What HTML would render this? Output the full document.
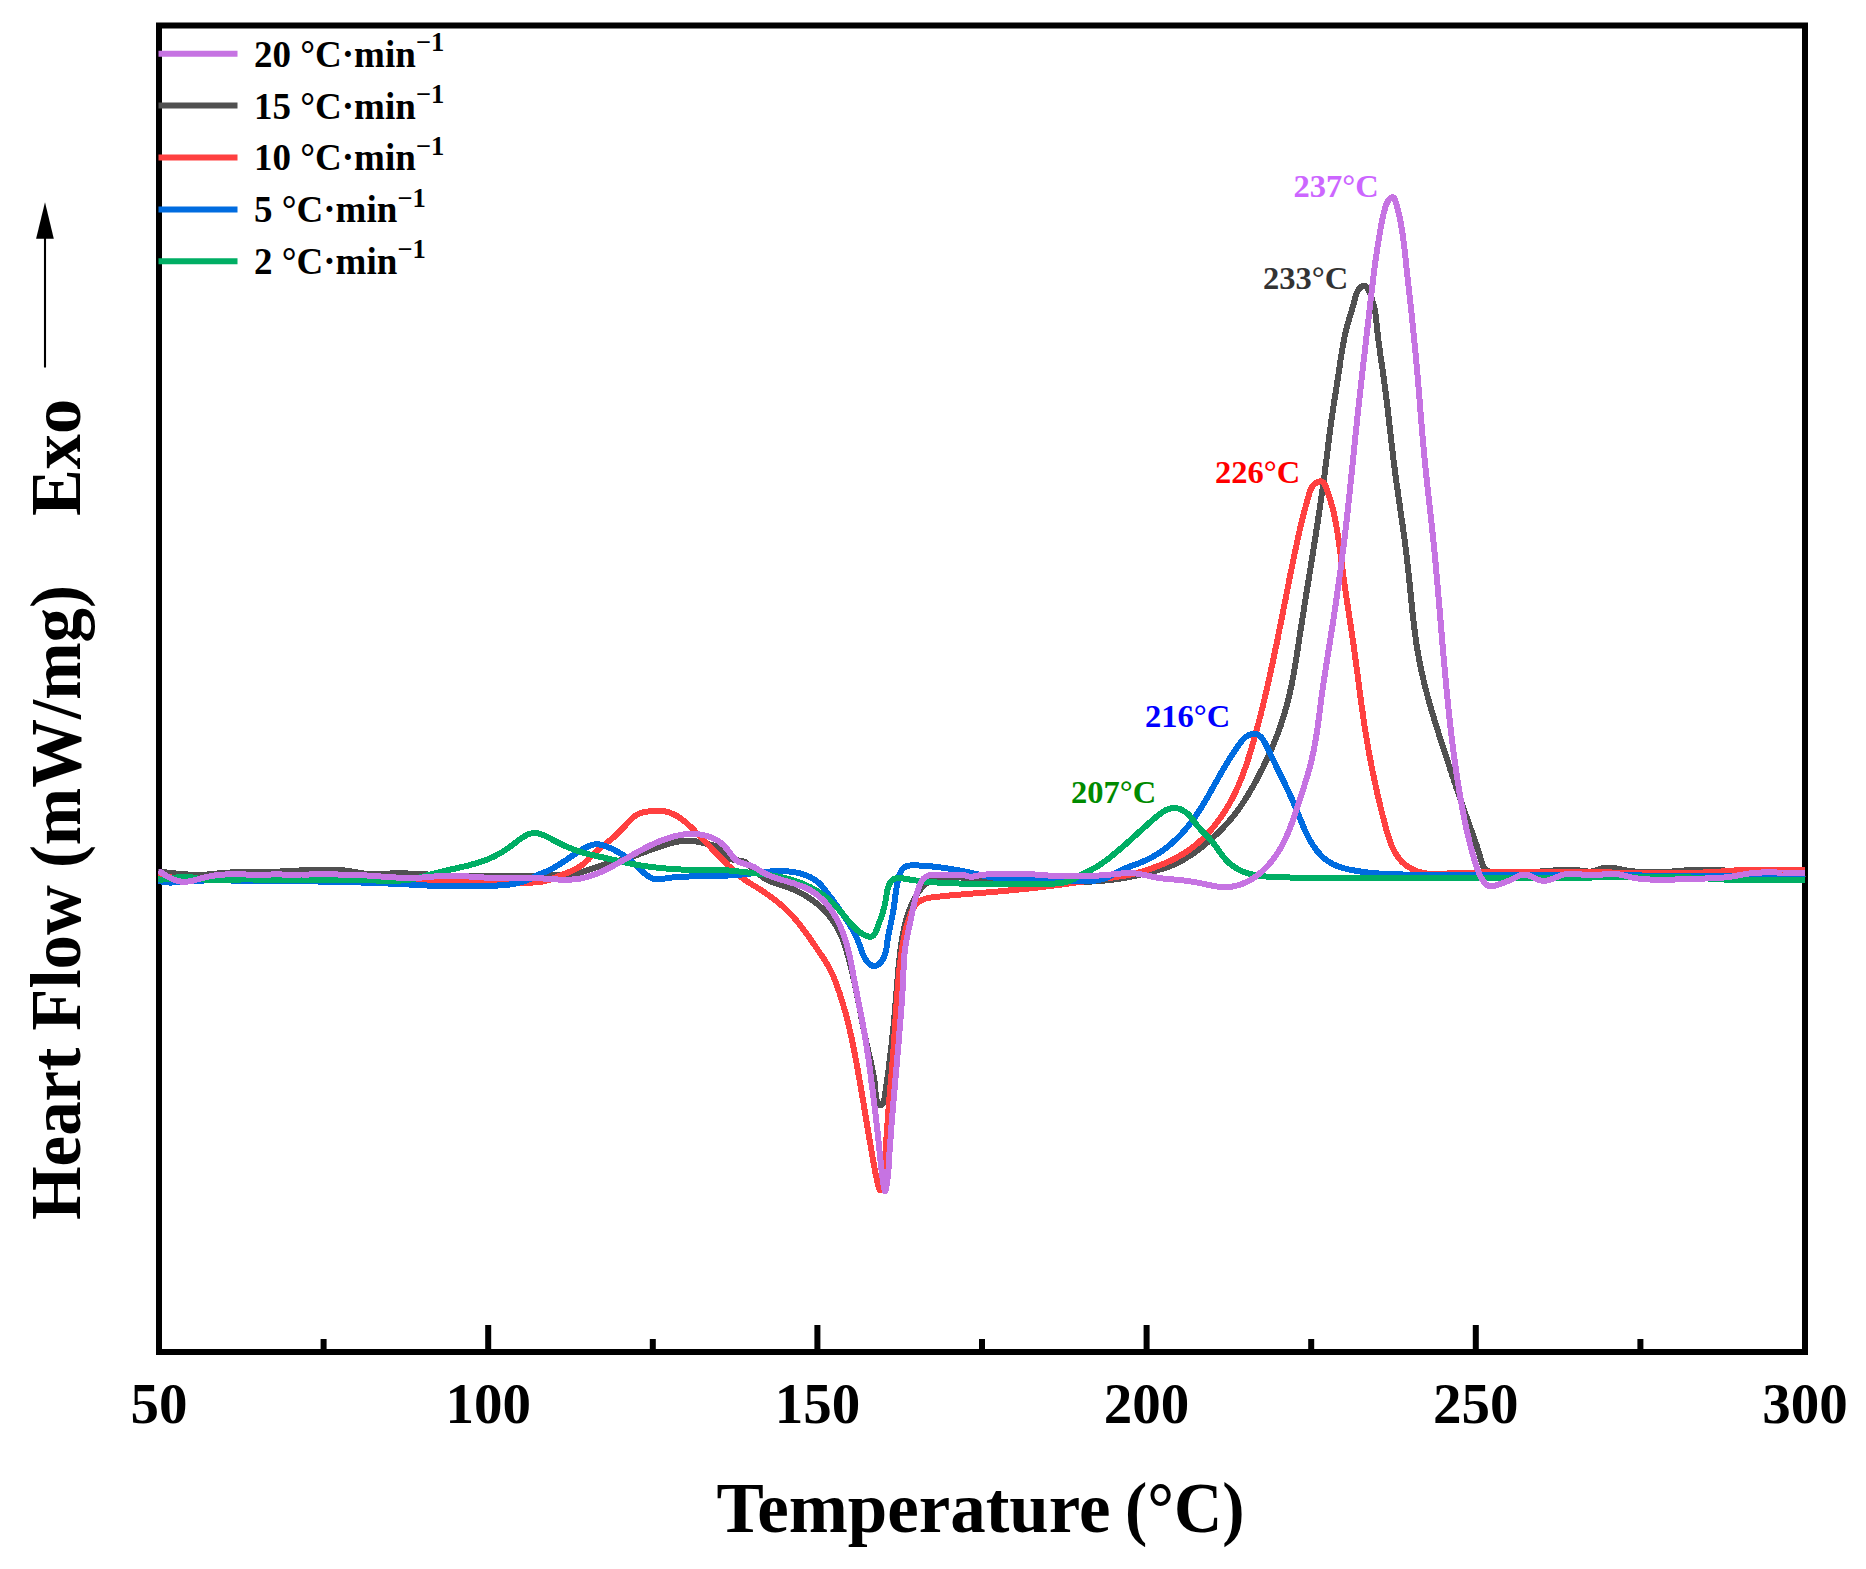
<!DOCTYPE html>
<html><head><meta charset="utf-8"><title>DSC curves</title><style>
html,body{margin:0;padding:0;background:#fff;width:1866px;height:1569px;overflow:hidden}
svg{display:block}
text{font-family:"Liberation Serif","Times New Roman",serif;font-weight:bold}
</style></head><body>
<svg width="1866" height="1569" viewBox="0 0 1866 1569">
<rect x="0" y="0" width="1866" height="1569" fill="#fff"/>

<rect x="159" y="25.5" width="1646" height="1326.5" fill="none" stroke="#000" stroke-width="6"/>
<path stroke="#000" stroke-width="6" d="M488.2,1325V1352M817.4,1325V1352M1146.6,1325V1352M1475.8,1325V1352M323.6,1339V1352M652.8,1339V1352M982.0,1339V1352M1311.2,1339V1352M1640.4,1339V1352"/>
<defs><clipPath id="pc"><rect x="158" y="20" width="1648" height="1330"/></clipPath></defs>
<g fill="none" stroke-width="6" stroke-linejoin="round" stroke-linecap="butt" shape-rendering="crispEdges" clip-path="url(#pc)">
<path stroke="#505050" d="M158.0,871.5L159.4,871.6 160.9,871.8 162.4,872.0 163.9,872.2 165.3,872.3 166.8,872.5 168.3,872.7 169.8,872.9 171.3,873.0 172.8,873.2 174.3,873.4 175.8,873.5 177.3,873.7 178.7,873.8 180.2,874.0 181.7,874.1 183.2,874.2 184.7,874.3 186.2,874.4 187.7,874.5 189.2,874.6 190.7,874.7 192.2,874.7 193.7,874.8 195.1,874.8 196.6,874.8 198.1,874.8 199.6,874.8 201.1,874.8 202.5,874.7 204.0,874.7 205.5,874.6 206.9,874.5 208.4,874.4 209.9,874.2 211.3,874.1 212.8,874.0 214.2,873.8 215.7,873.7 217.2,873.5 218.6,873.4 220.1,873.2 221.6,873.1 223.0,873.0 224.5,872.8 226.0,872.7 227.5,872.6 229.0,872.5 230.5,872.5 232.0,872.4 233.5,872.4 235.0,872.3 236.5,872.3 238.0,872.3 239.5,872.3 241.0,872.3 242.6,872.2 244.1,872.2 245.6,872.2 247.1,872.2 248.6,872.2 250.1,872.2 251.6,872.2 253.1,872.2 254.6,872.2 256.1,872.2 257.6,872.2 259.1,872.1 260.6,872.1 262.1,872.1 263.6,872.0 265.1,872.0 266.6,872.0 268.1,871.9 269.5,871.9 271.0,871.8 272.5,871.8 274.0,871.7 275.5,871.7 276.9,871.6 278.4,871.6 279.9,871.5 281.4,871.4 282.9,871.4 284.3,871.3 285.8,871.2 287.3,871.2 288.8,871.1 290.3,871.0 291.8,870.9 293.2,870.9 294.7,870.8 296.2,870.7 297.7,870.6 299.2,870.5 300.7,870.4 302.2,870.4 303.7,870.3 305.2,870.2 306.7,870.1 308.2,870.0 309.7,870.0 311.2,869.9 312.7,869.8 314.2,869.8 315.7,869.7 317.2,869.6 318.7,869.6 320.2,869.6 321.7,869.5 323.2,869.5 324.7,869.5 326.2,869.5 327.7,869.5 329.2,869.5 330.7,869.5 332.2,869.6 333.7,869.6 335.2,869.7 336.7,869.8 338.2,869.9 339.6,870.0 341.1,870.1 342.6,870.2 344.1,870.4 345.6,870.6 347.0,870.8 348.5,871.0 350.0,871.2 351.4,871.5 352.9,871.7 354.4,872.0 355.8,872.2 357.3,872.5 358.8,872.7 360.2,872.9 361.7,873.2 363.1,873.4 364.6,873.6 366.1,873.7 367.6,873.9 369.0,874.0 370.5,874.1 372.0,874.1 373.5,874.1 375.0,874.1 376.5,874.1 378.0,874.1 379.5,874.0 381.0,873.9 382.5,873.9 384.0,873.8 385.5,873.7 387.1,873.6 388.6,873.5 390.1,873.5 391.6,873.4 393.1,873.4 394.6,873.3 396.1,873.3 397.6,873.3 399.1,873.3 400.6,873.3 402.1,873.3 403.6,873.3 405.1,873.4 406.6,873.4 408.1,873.5 409.6,873.5 411.0,873.6 412.5,873.6 414.0,873.7 415.5,873.8 417.0,873.9 418.5,873.9 420.0,874.0 421.5,874.1 423.0,874.2 424.5,874.3 426.0,874.4 427.4,874.5 428.9,874.6 430.4,874.7 431.9,874.7 433.4,874.8 434.9,874.9 436.4,875.0 437.9,875.1 439.4,875.2 440.9,875.2 442.4,875.3 443.9,875.4 445.4,875.4 446.8,875.5 448.3,875.6 449.8,875.6 451.3,875.7 452.8,875.7 454.3,875.8 455.8,875.8 457.3,875.9 458.8,875.9 460.3,875.9 461.8,876.0 463.3,876.0 464.8,876.0 466.3,876.0 467.8,876.1 469.3,876.1 470.8,876.1 472.3,876.1 473.8,876.1 475.3,876.2 476.8,876.2 478.3,876.2 479.8,876.2 481.3,876.2 482.8,876.2 484.3,876.2 485.8,876.2 487.3,876.2 488.8,876.2 490.3,876.2 491.8,876.2 493.3,876.2 494.8,876.2 496.3,876.2 497.8,876.2 499.3,876.1 500.8,876.1 502.3,876.1 503.8,876.1 505.3,876.1 506.8,876.1 508.3,876.1 509.8,876.0 511.3,876.0 512.8,876.0 514.3,876.0 515.8,876.0 517.3,875.9 518.8,875.9 520.3,875.9 521.8,875.9 523.3,875.9 524.8,875.8 526.3,875.8 527.8,875.8 529.3,875.8 530.8,875.8 532.3,875.7 533.8,875.7 535.3,875.7 536.8,875.7 538.3,875.7 539.8,875.6 541.3,875.6 542.8,875.6 544.3,875.6 545.8,875.5 547.2,875.5 548.7,875.5 550.2,875.4 551.7,875.4 553.2,875.3 554.7,875.3 556.2,875.2 557.7,875.2 559.2,875.1 560.7,875.0 562.2,874.9 563.6,874.8 565.1,874.7 566.6,874.6 568.1,874.4 569.6,874.3 571.1,874.1 572.5,873.9 574.0,873.7 575.5,873.4 576.9,873.1 578.4,872.8 579.8,872.5 581.3,872.1 582.7,871.7 584.2,871.3 585.6,870.9 587.0,870.4 588.4,869.9 589.9,869.5 591.3,869.0 592.7,868.5 594.1,868.0 595.6,867.5 597.0,867.0 598.4,866.5 599.8,866.0 601.3,865.6 602.7,865.2 604.2,864.7 605.6,864.3 607.1,863.9 608.5,863.5 609.9,863.1 611.4,862.7 612.8,862.4 614.3,862.0 615.7,861.6 617.2,861.2 618.6,860.8 620.1,860.4 621.5,860.0 622.9,859.5 624.4,859.1 625.8,858.7 627.2,858.2 628.7,857.7 630.1,857.3 631.5,856.8 632.9,856.3 634.3,855.8 635.7,855.3 637.2,854.8 638.6,854.3 640.0,853.8 641.4,853.3 642.8,852.8 644.2,852.3 645.6,851.8 647.0,851.2 648.4,850.7 649.8,850.2 651.3,849.7 652.7,849.2 654.1,848.7 655.5,848.2 656.9,847.7 658.3,847.2 659.8,846.7 661.2,846.2 662.6,845.8 664.0,845.3 665.5,844.8 666.9,844.4 668.3,844.0 669.8,843.5 671.2,843.1 672.7,842.7 674.1,842.4 675.6,842.1 677.0,841.7 678.5,841.5 680.0,841.2 681.4,841.0 682.9,840.9 684.4,840.8 685.8,840.7 687.3,840.7 688.8,840.7 690.3,840.8 691.8,840.9 693.3,841.1 694.8,841.3 696.3,841.5 697.7,841.8 699.2,842.1 700.7,842.4 702.2,842.7 703.7,843.0 705.2,843.4 706.7,843.7 708.2,844.0 709.6,844.4 711.1,844.7 712.6,845.1 714.0,845.5 715.4,845.9 716.7,846.4 718.0,847.0 719.2,847.7 720.4,848.6 721.5,849.5 722.5,850.6 723.5,851.8 724.4,853.1 725.4,854.3 726.3,855.5 727.4,856.6 728.5,857.6 729.6,858.4 730.9,859.1 732.3,859.6 733.7,859.9 735.2,860.1 736.7,860.3 738.3,860.4 739.9,860.6 741.4,860.8 742.8,861.1 744.1,861.6 745.4,862.3 746.6,863.2 747.7,864.1 748.8,865.0 749.9,866.0 751.0,867.0 752.1,868.0 753.2,869.0 754.3,870.0 755.4,871.1 756.5,872.1 757.6,873.1 758.8,874.1 759.9,875.0 761.1,875.9 762.3,876.8 763.5,877.7 764.8,878.5 766.1,879.2 767.4,879.9 768.7,880.5 770.1,881.2 771.5,881.7 772.9,882.3 774.3,882.8 775.7,883.3 777.1,883.8 778.6,884.3 780.0,884.7 781.5,885.2 782.9,885.7 784.4,886.1 785.8,886.6 787.2,887.1 788.6,887.7 790.0,888.2 791.4,888.8 792.8,889.3 794.2,889.9 795.6,890.5 796.9,891.2 798.3,891.8 799.6,892.5 800.9,893.2 802.2,893.9 803.5,894.6 804.8,895.3 806.1,896.1 807.4,896.9 808.6,897.6 809.8,898.5 811.1,899.3 812.3,900.1 813.5,901.0 814.6,901.9 815.8,902.8 816.9,903.7 818.1,904.7 819.2,905.6 820.3,906.6 821.4,907.6 822.5,908.7 823.5,909.7 824.6,910.8 825.6,911.9 826.6,913.0 827.6,914.1 828.6,915.3 829.5,916.4 830.5,917.6 831.4,918.8 832.3,920.1 833.1,921.3 834.0,922.6 834.8,923.8 835.6,925.1 836.4,926.4 837.2,927.7 837.9,929.0 838.6,930.4 839.3,931.7 840.0,933.1 840.6,934.4 841.2,935.8 841.8,937.2 842.4,938.5 842.9,939.9 843.5,941.3 844.0,942.7 844.4,944.1 844.9,945.6 845.4,947.0 845.8,948.4 846.3,949.8 846.7,951.2 847.1,952.7 847.5,954.1 847.9,955.5 848.3,957.0 848.7,958.4 849.1,959.9 849.5,961.3 849.8,962.8 850.2,964.2 850.6,965.7 850.9,967.1 851.3,968.6 851.6,970.0 852.0,971.5 852.3,972.9 852.6,974.4 853.0,975.8 853.3,977.3 853.6,978.8 853.9,980.2 854.3,981.7 854.6,983.2 854.9,984.6 855.2,986.1 855.5,987.6 855.8,989.0 856.1,990.5 856.4,992.0 856.7,993.5 857.0,994.9 857.3,996.4 857.6,997.9 857.8,999.3 858.1,1000.8 858.4,1002.3 858.7,1003.8 859.0,1005.2 859.3,1006.7 859.6,1008.2 859.8,1009.7 860.1,1011.2 860.4,1012.6 860.7,1014.1 861.0,1015.6 861.2,1017.1 861.5,1018.5 861.8,1020.0 862.1,1021.5 862.4,1023.0 862.7,1024.4 863.0,1025.9 863.3,1027.4 863.5,1028.9 863.8,1030.3 864.1,1031.8 864.4,1033.3 864.7,1034.7 865.0,1036.2 865.4,1037.7 865.7,1039.1 866.0,1040.6 866.3,1042.1 866.6,1043.5 866.9,1045.0 867.3,1046.5 867.6,1047.9 867.9,1049.4 868.3,1050.9 868.6,1052.3 868.9,1053.8 869.3,1055.2 869.6,1056.7 870.0,1058.1 870.3,1059.6 870.6,1061.1 870.9,1062.5 871.3,1064.0 871.6,1065.4 871.9,1066.9 872.2,1068.4 872.5,1069.8 872.8,1071.3 873.0,1072.8 873.3,1074.2 873.6,1075.7 873.8,1077.2 874.0,1078.7 874.3,1080.2 874.5,1081.6 874.7,1083.1 874.8,1084.6 875.0,1086.1 875.1,1087.6 875.3,1089.1 875.4,1090.6 875.5,1092.1 875.6,1093.6 875.7,1095.1 876.0,1096.7 876.3,1098.2 876.7,1099.7 877.2,1101.2 877.9,1102.6 878.7,1103.8 879.5,1104.7 880.4,1105.2 881.3,1105.1 882.2,1104.5 883.0,1103.5 883.7,1102.2 884.1,1100.7 884.4,1099.1 884.7,1097.5 884.9,1095.9 885.1,1094.3 885.3,1092.8 885.5,1091.2 885.7,1089.8 885.9,1088.3 886.1,1086.8 886.3,1085.4 886.6,1083.9 886.8,1082.4 887.0,1081.0 887.2,1079.5 887.4,1078.0 887.6,1076.6 887.8,1075.1 888.0,1073.6 888.2,1072.1 888.4,1070.6 888.6,1069.2 888.7,1067.7 888.9,1066.2 889.1,1064.7 889.3,1063.2 889.5,1061.7 889.7,1060.2 889.9,1058.7 890.1,1057.2 890.2,1055.7 890.4,1054.2 890.6,1052.7 890.8,1051.3 891.0,1049.8 891.1,1048.3 891.3,1046.8 891.5,1045.3 891.6,1043.8 891.8,1042.3 892.0,1040.8 892.1,1039.3 892.3,1037.8 892.4,1036.3 892.6,1034.8 892.8,1033.3 892.9,1031.8 893.1,1030.3 893.2,1028.9 893.4,1027.4 893.5,1025.9 893.6,1024.4 893.8,1022.9 893.9,1021.4 894.1,1019.9 894.2,1018.4 894.3,1017.0 894.5,1015.5 894.6,1014.0 894.7,1012.5 894.9,1011.0 895.0,1009.5 895.1,1008.0 895.3,1006.5 895.4,1005.0 895.5,1003.6 895.6,1002.1 895.8,1000.6 895.9,999.1 896.0,997.6 896.1,996.1 896.2,994.6 896.4,993.1 896.5,991.6 896.6,990.1 896.7,988.6 896.8,987.1 897.0,985.6 897.1,984.1 897.2,982.6 897.3,981.1 897.5,979.6 897.6,978.1 897.7,976.6 897.8,975.1 898.0,973.6 898.1,972.1 898.2,970.6 898.4,969.1 898.5,967.6 898.7,966.1 898.8,964.6 898.9,963.1 899.1,961.6 899.3,960.1 899.4,958.6 899.6,957.1 899.8,955.6 899.9,954.1 900.1,952.6 900.3,951.1 900.5,949.7 900.7,948.2 900.9,946.7 901.1,945.2 901.3,943.8 901.5,942.3 901.7,940.8 902.0,939.4 902.2,937.9 902.5,936.4 902.7,935.0 903.0,933.5 903.3,932.1 903.6,930.6 903.9,929.2 904.2,927.7 904.5,926.3 904.9,924.8 905.2,923.4 905.6,922.0 906.0,920.5 906.4,919.1 906.8,917.7 907.3,916.2 907.7,914.8 908.2,913.4 908.7,912.0 909.2,910.6 909.8,909.1 910.3,907.7 910.9,906.3 911.5,904.9 912.1,903.5 912.8,902.1 913.4,900.7 914.1,899.3 914.8,897.9 915.6,896.6 916.4,895.2 917.2,893.9 918.0,892.7 918.9,891.4 919.8,890.2 920.7,889.0 921.7,887.9 922.7,886.8 923.7,885.8 924.8,884.8 925.9,883.9 927.0,883.0 928.2,882.2 929.5,881.5 930.7,880.8 932.0,880.1 933.3,879.6 934.7,879.1 936.0,878.6 937.4,878.2 938.8,877.8 940.2,877.5 941.7,877.3 943.1,877.1 944.6,876.9 946.1,876.8 947.5,876.8 949.0,876.8 950.5,876.8 952.1,876.8 953.6,876.9 955.1,877.0 956.6,877.1 958.1,877.2 959.7,877.3 961.2,877.5 962.7,877.6 964.3,877.8 965.8,877.9 967.3,878.0 968.8,878.2 970.3,878.3 971.8,878.4 973.3,878.5 974.8,878.6 976.3,878.7 977.8,878.7 979.3,878.8 980.8,878.9 982.3,879.0 983.8,879.0 985.3,879.1 986.8,879.2 988.3,879.3 989.8,879.3 991.3,879.4 992.7,879.5 994.2,879.5 995.7,879.6 997.2,879.7 998.7,879.8 1000.2,879.8 1001.7,879.9 1003.2,880.0 1004.7,880.1 1006.2,880.2 1007.7,880.2 1009.2,880.3 1010.7,880.4 1012.2,880.5 1013.7,880.5 1015.2,880.6 1016.7,880.7 1018.1,880.8 1019.6,880.8 1021.1,880.9 1022.6,881.0 1024.1,881.0 1025.6,881.1 1027.1,881.2 1028.6,881.2 1030.1,881.3 1031.6,881.4 1033.1,881.4 1034.6,881.5 1036.1,881.6 1037.6,881.6 1039.1,881.7 1040.6,881.7 1042.1,881.8 1043.6,881.8 1045.1,881.9 1046.6,881.9 1048.1,881.9 1049.6,882.0 1051.1,882.0 1052.6,882.0 1054.1,882.1 1055.6,882.1 1057.1,882.1 1058.6,882.1 1060.1,882.2 1061.6,882.2 1063.1,882.2 1064.6,882.2 1066.1,882.2 1067.6,882.2 1069.1,882.2 1070.6,882.2 1072.1,882.1 1073.6,882.1 1075.1,882.1 1076.6,882.1 1078.1,882.0 1079.6,882.0 1081.1,882.0 1082.6,881.9 1084.1,881.9 1085.6,881.8 1087.1,881.7 1088.6,881.7 1090.1,881.6 1091.6,881.5 1093.1,881.4 1094.6,881.3 1096.1,881.2 1097.6,881.1 1099.1,881.0 1100.6,880.9 1102.1,880.8 1103.6,880.7 1105.1,880.5 1106.6,880.4 1108.1,880.2 1109.5,880.0 1111.0,879.9 1112.5,879.7 1114.0,879.5 1115.5,879.3 1116.9,879.1 1118.4,878.9 1119.9,878.7 1121.4,878.4 1122.8,878.2 1124.3,878.0 1125.7,877.7 1127.2,877.4 1128.6,877.1 1130.1,876.9 1131.5,876.6 1133.0,876.2 1134.4,875.9 1135.9,875.6 1137.3,875.3 1138.8,874.9 1140.2,874.6 1141.7,874.2 1143.1,873.9 1144.5,873.5 1146.0,873.2 1147.5,872.8 1148.9,872.5 1150.4,872.1 1151.8,871.7 1153.3,871.3 1154.8,871.0 1156.2,870.6 1157.7,870.2 1159.1,869.8 1160.6,869.3 1162.0,868.9 1163.5,868.5 1164.9,868.0 1166.3,867.5 1167.7,867.0 1169.2,866.5 1170.5,865.9 1171.9,865.4 1173.3,864.8 1174.7,864.2 1176.0,863.6 1177.4,862.9 1178.7,862.3 1180.0,861.6 1181.3,860.9 1182.6,860.2 1183.9,859.4 1185.2,858.7 1186.5,857.9 1187.7,857.1 1189.0,856.3 1190.2,855.5 1191.5,854.7 1192.7,853.9 1193.9,853.0 1195.2,852.1 1196.4,851.3 1197.6,850.4 1198.8,849.5 1199.9,848.6 1201.1,847.6 1202.3,846.7 1203.5,845.8 1204.6,844.8 1205.8,843.9 1206.9,842.9 1208.1,841.9 1209.2,840.9 1210.3,839.9 1211.4,839.0 1212.6,837.9 1213.7,836.9 1214.8,835.9 1215.9,834.9 1216.9,833.9 1218.0,832.8 1219.1,831.8 1220.2,830.7 1221.2,829.6 1222.3,828.6 1223.3,827.5 1224.3,826.4 1225.4,825.3 1226.4,824.2 1227.4,823.1 1228.4,822.0 1229.3,820.8 1230.3,819.7 1231.3,818.5 1232.2,817.4 1233.2,816.2 1234.1,815.1 1235.0,813.9 1235.9,812.7 1236.8,811.5 1237.7,810.3 1238.6,809.1 1239.5,807.9 1240.4,806.7 1241.2,805.4 1242.0,804.2 1242.9,803.0 1243.7,801.7 1244.5,800.5 1245.3,799.2 1246.1,797.9 1246.9,796.7 1247.7,795.4 1248.5,794.1 1249.2,792.8 1250.0,791.5 1250.8,790.2 1251.5,788.9 1252.2,787.6 1253.0,786.3 1253.7,785.0 1254.4,783.7 1255.1,782.4 1255.9,781.1 1256.6,779.7 1257.3,778.4 1258.0,777.1 1258.7,775.8 1259.4,774.4 1260.0,773.1 1260.7,771.7 1261.4,770.4 1262.1,769.1 1262.8,767.7 1263.4,766.4 1264.1,765.0 1264.7,763.7 1265.4,762.3 1266.0,761.0 1266.7,759.6 1267.3,758.2 1268.0,756.9 1268.6,755.5 1269.2,754.1 1269.8,752.8 1270.4,751.4 1271.0,750.0 1271.6,748.7 1272.2,747.3 1272.8,745.9 1273.4,744.5 1274.0,743.1 1274.6,741.7 1275.1,740.4 1275.7,739.0 1276.2,737.6 1276.8,736.2 1277.3,734.8 1277.8,733.4 1278.4,732.0 1278.9,730.6 1279.4,729.1 1279.9,727.7 1280.4,726.3 1280.9,724.9 1281.3,723.5 1281.8,722.1 1282.3,720.6 1282.7,719.2 1283.2,717.8 1283.6,716.3 1284.0,714.9 1284.5,713.5 1284.9,712.0 1285.3,710.6 1285.7,709.2 1286.1,707.7 1286.5,706.3 1286.9,704.8 1287.3,703.4 1287.7,701.9 1288.0,700.5 1288.4,699.0 1288.7,697.6 1289.1,696.1 1289.4,694.7 1289.8,693.2 1290.1,691.7 1290.4,690.3 1290.8,688.8 1291.1,687.3 1291.4,685.9 1291.7,684.4 1292.0,682.9 1292.3,681.5 1292.5,680.0 1292.8,678.5 1293.1,677.1 1293.4,675.6 1293.6,674.1 1293.9,672.6 1294.2,671.2 1294.4,669.7 1294.7,668.2 1294.9,666.7 1295.2,665.2 1295.4,663.8 1295.6,662.3 1295.9,660.8 1296.1,659.3 1296.4,657.8 1296.6,656.4 1296.8,654.9 1297.0,653.4 1297.3,651.9 1297.5,650.4 1297.7,648.9 1297.9,647.5 1298.2,646.0 1298.4,644.5 1298.6,643.0 1298.8,641.5 1299.1,640.0 1299.3,638.6 1299.5,637.1 1299.7,635.6 1300.0,634.1 1300.2,632.6 1300.4,631.1 1300.7,629.7 1300.9,628.2 1301.1,626.7 1301.4,625.2 1301.6,623.7 1301.8,622.2 1302.1,620.8 1302.3,619.3 1302.5,617.8 1302.8,616.3 1303.0,614.8 1303.2,613.4 1303.5,611.9 1303.7,610.4 1303.9,608.9 1304.2,607.4 1304.4,605.9 1304.6,604.5 1304.9,603.0 1305.1,601.5 1305.3,600.0 1305.6,598.5 1305.8,597.1 1306.1,595.6 1306.3,594.1 1306.5,592.6 1306.8,591.1 1307.0,589.7 1307.2,588.2 1307.5,586.7 1307.7,585.2 1308.0,583.7 1308.2,582.3 1308.4,580.8 1308.7,579.3 1308.9,577.8 1309.1,576.3 1309.4,574.9 1309.6,573.4 1309.9,571.9 1310.1,570.4 1310.3,568.9 1310.6,567.5 1310.8,566.0 1311.0,564.5 1311.3,563.0 1311.5,561.5 1311.8,560.1 1312.0,558.6 1312.2,557.1 1312.5,555.6 1312.7,554.1 1312.9,552.7 1313.2,551.2 1313.4,549.7 1313.6,548.2 1313.9,546.7 1314.1,545.2 1314.3,543.8 1314.6,542.3 1314.8,540.8 1315.0,539.3 1315.3,537.8 1315.5,536.4 1315.7,534.9 1316.0,533.4 1316.2,531.9 1316.4,530.4 1316.6,529.0 1316.9,527.5 1317.1,526.0 1317.3,524.5 1317.6,523.0 1317.8,521.5 1318.0,520.1 1318.2,518.6 1318.4,517.1 1318.7,515.6 1318.9,514.1 1319.1,512.6 1319.3,511.2 1319.6,509.7 1319.8,508.2 1320.0,506.7 1320.2,505.2 1320.4,503.7 1320.6,502.3 1320.9,500.8 1321.1,499.3 1321.3,497.8 1321.5,496.3 1321.7,494.8 1321.9,493.4 1322.1,491.9 1322.3,490.4 1322.5,488.9 1322.7,487.4 1322.9,485.9 1323.2,484.4 1323.4,483.0 1323.6,481.5 1323.8,480.0 1324.0,478.5 1324.2,477.0 1324.4,475.5 1324.6,474.0 1324.7,472.5 1324.9,471.1 1325.1,469.6 1325.3,468.1 1325.5,466.6 1325.7,465.1 1325.9,463.6 1326.1,462.1 1326.3,460.6 1326.5,459.1 1326.6,457.7 1326.8,456.2 1327.0,454.7 1327.2,453.2 1327.4,451.7 1327.6,450.2 1327.7,448.7 1327.9,447.2 1328.1,445.7 1328.3,444.2 1328.5,442.8 1328.7,441.3 1328.9,439.8 1329.0,438.3 1329.2,436.8 1329.4,435.3 1329.6,433.8 1329.8,432.3 1330.0,430.9 1330.2,429.4 1330.4,427.9 1330.6,426.4 1330.8,424.9 1331.0,423.4 1331.2,421.9 1331.4,420.5 1331.6,419.0 1331.8,417.5 1332.0,416.0 1332.3,414.5 1332.5,413.0 1332.7,411.6 1332.9,410.1 1333.1,408.6 1333.4,407.1 1333.6,405.6 1333.8,404.2 1334.1,402.7 1334.3,401.2 1334.5,399.7 1334.7,398.2 1335.0,396.7 1335.2,395.3 1335.4,393.8 1335.7,392.3 1335.9,390.8 1336.1,389.3 1336.4,387.9 1336.6,386.4 1336.8,384.9 1337.1,383.4 1337.3,381.9 1337.5,380.5 1337.8,379.0 1338.0,377.5 1338.2,376.0 1338.4,374.5 1338.7,373.0 1338.9,371.5 1339.1,370.1 1339.3,368.6 1339.6,367.1 1339.8,365.6 1340.0,364.1 1340.2,362.6 1340.4,361.1 1340.6,359.6 1340.9,358.2 1341.1,356.7 1341.3,355.2 1341.6,353.7 1341.8,352.2 1342.0,350.7 1342.3,349.3 1342.5,347.8 1342.8,346.3 1343.0,344.8 1343.3,343.3 1343.6,341.9 1343.9,340.4 1344.1,338.9 1344.4,337.5 1344.7,336.0 1345.1,334.5 1345.4,333.1 1345.7,331.6 1346.1,330.2 1346.4,328.7 1346.8,327.3 1347.2,325.8 1347.5,324.4 1347.9,323.0 1348.4,321.5 1348.8,320.1 1349.2,318.7 1349.7,317.3 1350.1,315.8 1350.5,314.4 1351.0,313.0 1351.4,311.5 1351.9,310.1 1352.3,308.6 1352.7,307.2 1353.2,305.7 1353.6,304.2 1354.0,302.8 1354.3,301.3 1354.7,299.8 1355.1,298.3 1355.5,296.8 1355.9,295.3 1356.4,293.9 1357.0,292.5 1357.7,291.1 1358.4,289.9 1359.3,288.7 1360.3,287.7 1361.3,286.9 1362.3,286.3 1363.3,285.9 1364.3,285.8 1365.3,286.1 1366.2,286.7 1367.0,287.6 1367.8,288.8 1368.6,290.1 1369.2,291.6 1369.9,293.2 1370.5,294.9 1371.1,296.6 1371.6,298.2 1372.1,299.8 1372.5,301.3 1373.0,302.7 1373.4,304.1 1373.7,305.5 1374.1,306.9 1374.4,308.2 1374.7,309.6 1375.0,311.0 1375.2,312.4 1375.5,313.8 1375.7,315.3 1375.9,316.7 1376.0,318.2 1376.2,319.7 1376.4,321.2 1376.5,322.7 1376.7,324.2 1376.8,325.7 1377.0,327.2 1377.1,328.7 1377.3,330.2 1377.4,331.7 1377.6,333.3 1377.8,334.8 1377.9,336.3 1378.1,337.8 1378.3,339.3 1378.5,340.8 1378.7,342.3 1378.9,343.8 1379.1,345.3 1379.3,346.7 1379.5,348.2 1379.7,349.7 1379.9,351.2 1380.1,352.7 1380.3,354.2 1380.5,355.7 1380.7,357.1 1381.0,358.6 1381.2,360.1 1381.4,361.6 1381.6,363.1 1381.8,364.5 1382.0,366.0 1382.3,367.5 1382.5,369.0 1382.7,370.5 1382.9,371.9 1383.1,373.4 1383.3,374.9 1383.5,376.4 1383.7,377.9 1383.9,379.3 1384.1,380.8 1384.3,382.3 1384.5,383.8 1384.7,385.3 1384.9,386.8 1385.1,388.2 1385.3,389.7 1385.5,391.2 1385.7,392.7 1385.9,394.2 1386.1,395.7 1386.2,397.2 1386.4,398.7 1386.6,400.1 1386.8,401.6 1387.0,403.1 1387.1,404.6 1387.3,406.1 1387.5,407.6 1387.7,409.1 1387.8,410.6 1388.0,412.1 1388.2,413.5 1388.4,415.0 1388.5,416.5 1388.7,418.0 1388.9,419.5 1389.0,421.0 1389.2,422.5 1389.4,424.0 1389.5,425.5 1389.7,427.0 1389.9,428.5 1390.1,430.0 1390.2,431.4 1390.4,432.9 1390.6,434.4 1390.7,435.9 1390.9,437.4 1391.1,438.9 1391.2,440.4 1391.4,441.9 1391.6,443.4 1391.8,444.9 1391.9,446.4 1392.1,447.9 1392.3,449.3 1392.5,450.8 1392.6,452.3 1392.8,453.8 1393.0,455.3 1393.2,456.8 1393.4,458.3 1393.5,459.8 1393.7,461.3 1393.9,462.8 1394.1,464.2 1394.3,465.7 1394.5,467.2 1394.7,468.7 1394.8,470.2 1395.0,471.7 1395.2,473.2 1395.4,474.7 1395.6,476.1 1395.8,477.6 1396.0,479.1 1396.2,480.6 1396.4,482.1 1396.6,483.6 1396.9,485.1 1397.1,486.5 1397.3,488.0 1397.5,489.5 1397.7,491.0 1397.9,492.5 1398.1,494.0 1398.3,495.4 1398.5,496.9 1398.7,498.4 1398.9,499.9 1399.2,501.4 1399.4,502.9 1399.6,504.3 1399.8,505.8 1400.0,507.3 1400.2,508.8 1400.4,510.3 1400.7,511.8 1400.9,513.2 1401.1,514.7 1401.3,516.2 1401.5,517.7 1401.7,519.2 1401.9,520.7 1402.1,522.1 1402.3,523.6 1402.6,525.1 1402.8,526.6 1403.0,528.1 1403.2,529.6 1403.4,531.1 1403.6,532.5 1403.8,534.0 1404.0,535.5 1404.2,537.0 1404.4,538.5 1404.6,540.0 1404.8,541.4 1405.0,542.9 1405.2,544.4 1405.4,545.9 1405.6,547.4 1405.8,548.9 1405.9,550.4 1406.1,551.9 1406.3,553.3 1406.5,554.8 1406.7,556.3 1406.9,557.8 1407.0,559.3 1407.2,560.8 1407.4,562.3 1407.5,563.8 1407.7,565.3 1407.9,566.8 1408.0,568.2 1408.2,569.7 1408.4,571.2 1408.5,572.7 1408.7,574.2 1408.8,575.7 1409.0,577.2 1409.1,578.7 1409.3,580.2 1409.4,581.7 1409.6,583.2 1409.7,584.7 1409.9,586.2 1410.0,587.7 1410.2,589.2 1410.3,590.7 1410.5,592.2 1410.6,593.7 1410.8,595.2 1410.9,596.6 1411.1,598.1 1411.2,599.6 1411.4,601.1 1411.5,602.6 1411.7,604.1 1411.8,605.6 1412.0,607.1 1412.1,608.6 1412.3,610.1 1412.4,611.6 1412.6,613.1 1412.8,614.6 1412.9,616.1 1413.1,617.6 1413.3,619.1 1413.4,620.5 1413.6,622.0 1413.8,623.5 1414.0,625.0 1414.1,626.5 1414.3,628.0 1414.5,629.5 1414.7,631.0 1414.9,632.5 1415.1,633.9 1415.3,635.4 1415.5,636.9 1415.7,638.4 1415.9,639.9 1416.1,641.4 1416.3,642.8 1416.5,644.3 1416.8,645.8 1417.0,647.3 1417.2,648.8 1417.5,650.2 1417.7,651.7 1418.0,653.2 1418.2,654.7 1418.5,656.1 1418.8,657.6 1419.0,659.1 1419.3,660.5 1419.6,662.0 1419.9,663.5 1420.2,665.0 1420.5,666.4 1420.8,667.9 1421.1,669.3 1421.4,670.8 1421.7,672.3 1422.0,673.7 1422.4,675.2 1422.7,676.6 1423.0,678.1 1423.4,679.6 1423.7,681.0 1424.1,682.5 1424.4,683.9 1424.8,685.4 1425.2,686.8 1425.5,688.3 1425.9,689.7 1426.3,691.2 1426.6,692.6 1427.0,694.1 1427.4,695.5 1427.8,697.0 1428.2,698.4 1428.6,699.9 1429.0,701.3 1429.4,702.8 1429.8,704.2 1430.2,705.6 1430.6,707.1 1431.0,708.5 1431.5,710.0 1431.9,711.4 1432.3,712.9 1432.7,714.3 1433.2,715.7 1433.6,717.2 1434.0,718.6 1434.5,720.0 1434.9,721.5 1435.3,722.9 1435.8,724.3 1436.2,725.8 1436.7,727.2 1437.1,728.7 1437.6,730.1 1438.0,731.5 1438.5,732.9 1438.9,734.4 1439.4,735.8 1439.8,737.2 1440.3,738.7 1440.7,740.1 1441.2,741.5 1441.7,743.0 1442.1,744.4 1442.6,745.8 1443.1,747.3 1443.5,748.7 1444.0,750.1 1444.4,751.5 1444.9,753.0 1445.4,754.4 1445.8,755.8 1446.3,757.3 1446.8,758.7 1447.2,760.1 1447.7,761.5 1448.2,763.0 1448.6,764.4 1449.1,765.8 1449.6,767.2 1450.1,768.7 1450.5,770.1 1451.0,771.5 1451.5,772.9 1451.9,774.4 1452.4,775.8 1452.9,777.2 1453.4,778.6 1453.8,780.0 1454.3,781.5 1454.8,782.9 1455.3,784.3 1455.8,785.7 1456.2,787.1 1456.7,788.6 1457.2,790.0 1457.7,791.4 1458.2,792.8 1458.6,794.2 1459.1,795.7 1459.6,797.1 1460.1,798.5 1460.6,799.9 1461.1,801.3 1461.6,802.7 1462.1,804.1 1462.5,805.6 1463.0,807.0 1463.5,808.4 1464.0,809.8 1464.5,811.2 1465.0,812.6 1465.5,814.0 1466.0,815.4 1466.5,816.8 1467.0,818.2 1467.5,819.7 1468.0,821.1 1468.5,822.5 1469.0,823.9 1469.5,825.3 1470.0,826.7 1470.5,828.1 1471.0,829.5 1471.5,830.9 1472.0,832.3 1472.5,833.7 1473.0,835.1 1473.5,836.5 1474.0,837.9 1474.5,839.3 1475.0,840.7 1475.5,842.1 1476.0,843.5 1476.5,845.0 1477.0,846.4 1477.4,847.8 1477.9,849.3 1478.4,850.8 1478.8,852.2 1479.2,853.7 1479.7,855.2 1480.1,856.7 1480.5,858.3 1480.9,859.8 1481.3,861.3 1481.8,862.8 1482.3,864.2 1482.8,865.6 1483.5,866.9 1484.3,868.0 1485.2,869.0 1486.2,869.9 1487.3,870.7 1488.5,871.3 1489.7,871.9 1491.1,872.3 1492.4,872.7 1493.8,873.0 1495.2,873.2 1496.7,873.4 1498.1,873.5 1499.6,873.6 1501.1,873.6 1502.6,873.6 1504.1,873.5 1505.7,873.4 1507.2,873.3 1508.7,873.2 1510.2,873.1 1511.8,873.0 1513.3,872.8 1514.8,872.7 1516.3,872.6 1517.8,872.6 1519.3,872.5 1520.8,872.4 1522.3,872.3 1523.8,872.3 1525.3,872.2 1526.8,872.2 1528.3,872.1 1529.8,872.1 1531.2,872.0 1532.7,871.9 1534.2,871.9 1535.7,871.8 1537.2,871.7 1538.7,871.6 1540.2,871.5 1541.7,871.4 1543.2,871.3 1544.6,871.2 1546.1,871.1 1547.6,871.0 1549.1,870.8 1550.6,870.7 1552.1,870.6 1553.6,870.5 1555.1,870.4 1556.7,870.3 1558.2,870.2 1559.7,870.1 1561.2,870.1 1562.7,870.0 1564.2,870.0 1565.7,869.9 1567.2,869.9 1568.7,869.9 1570.2,869.9 1571.6,869.9 1573.1,870.0 1574.6,870.1 1576.1,870.1 1577.6,870.3 1579.1,870.4 1580.6,870.6 1582.1,870.8 1583.5,871.0 1585.0,871.2 1586.5,871.4 1588.0,871.5 1589.4,871.6 1590.9,871.5 1592.3,871.4 1593.8,871.1 1595.2,870.7 1596.7,870.2 1598.1,869.6 1599.6,869.1 1601.0,868.6 1602.4,868.2 1603.9,867.8 1605.4,867.6 1606.8,867.5 1608.3,867.5 1609.8,867.5 1611.2,867.6 1612.7,867.8 1614.2,868.0 1615.7,868.3 1617.2,868.6 1618.7,868.9 1620.2,869.2 1621.7,869.5 1623.1,869.8 1624.6,870.1 1626.1,870.4 1627.6,870.6 1629.1,870.8 1630.6,871.0 1632.1,871.2 1633.6,871.4 1635.1,871.6 1636.6,871.7 1638.1,871.9 1639.6,872.0 1641.1,872.1 1642.5,872.2 1644.0,872.3 1645.5,872.3 1647.0,872.4 1648.5,872.4 1650.0,872.4 1651.5,872.4 1653.0,872.4 1654.5,872.4 1655.9,872.4 1657.4,872.4 1658.9,872.3 1660.4,872.3 1661.9,872.2 1663.4,872.2 1664.8,872.1 1666.3,872.0 1667.8,871.9 1669.3,871.8 1670.8,871.7 1672.2,871.5 1673.7,871.4 1675.2,871.3 1676.6,871.2 1678.1,871.0 1679.6,870.9 1681.1,870.7 1682.5,870.6 1684.0,870.5 1685.5,870.4 1687.0,870.2 1688.5,870.1 1689.9,870.0 1691.4,869.9 1692.9,869.8 1694.4,869.8 1695.9,869.7 1697.4,869.6 1698.9,869.6 1700.4,869.6 1701.9,869.5 1703.4,869.5 1704.9,869.5 1706.4,869.5 1707.9,869.5 1709.4,869.6 1710.9,869.6 1712.4,869.7 1713.9,869.7 1715.4,869.8 1716.9,869.9 1718.4,870.0 1719.9,870.1 1721.4,870.2 1722.9,870.3 1724.4,870.5 1725.9,870.6 1727.4,870.8 1728.9,870.9 1730.4,871.1 1731.9,871.2 1733.4,871.4 1734.9,871.6 1736.4,871.8 1737.9,871.9 1739.4,872.1 1740.8,872.3 1742.3,872.5 1743.8,872.7 1745.3,872.9 1746.8,873.0 1748.3,873.2 1749.8,873.4 1751.3,873.6 1752.8,873.8 1754.2,873.9 1755.7,874.1 1757.2,874.3 1758.7,874.4 1760.2,874.6 1761.7,874.7 1763.2,874.9 1764.7,875.0 1766.1,875.1 1767.6,875.2 1769.1,875.3 1770.6,875.4 1772.1,875.5 1773.6,875.6 1775.1,875.7 1776.6,875.7 1778.1,875.8 1779.6,875.8 1781.1,875.8 1782.5,875.8 1784.0,875.8 1785.5,875.8 1787.0,875.7 1788.5,875.6 1790.0,875.6 1791.5,875.5 1793.0,875.4 1794.5,875.2 1796.0,875.1 1797.5,874.9 1799.0,874.7 1800.5,874.5 1802.0,874.2 1803.5,874.0 1805.1,873.7"/>
<path stroke="#FF4040" d="M158.0,875.6L159.5,875.8 161.0,876.1 162.5,876.3 164.0,876.5 165.5,876.7 167.0,876.9 168.4,877.1 169.9,877.3 171.4,877.5 172.9,877.7 174.4,877.8 175.9,878.0 177.4,878.1 178.9,878.3 180.4,878.4 181.9,878.5 183.4,878.7 184.9,878.8 186.4,878.9 187.9,879.0 189.3,879.1 190.8,879.2 192.3,879.3 193.8,879.3 195.3,879.4 196.8,879.5 198.3,879.5 199.8,879.6 201.3,879.7 202.8,879.7 204.3,879.8 205.8,879.8 207.3,879.8 208.8,879.9 210.3,879.9 211.8,879.9 213.3,880.0 214.8,880.0 216.3,880.0 217.8,880.0 219.3,880.0 220.8,880.0 222.3,880.0 223.8,880.0 225.3,880.1 226.8,880.1 228.3,880.1 229.8,880.1 231.3,880.0 232.8,880.0 234.3,880.0 235.8,880.0 237.3,880.0 238.8,880.0 240.3,880.0 241.8,880.0 243.3,880.0 244.8,880.0 246.3,880.0 247.8,880.0 249.3,880.0 250.8,880.0 252.3,880.0 253.8,879.9 255.3,879.9 256.8,879.9 258.3,879.9 259.8,879.9 261.3,879.9 262.8,879.9 264.3,879.9 265.8,879.9 267.3,879.9 268.8,879.9 270.3,879.9 271.8,879.9 273.3,879.9 274.8,880.0 276.3,880.0 277.8,880.0 279.3,880.0 280.8,880.0 282.3,880.0 283.8,880.0 285.3,880.0 286.8,880.0 288.3,880.0 289.8,880.0 291.3,880.0 292.8,880.0 294.3,880.0 295.8,880.1 297.3,880.1 298.8,880.1 300.3,880.1 301.8,880.1 303.3,880.1 304.8,880.1 306.3,880.1 307.8,880.1 309.3,880.2 310.8,880.2 312.3,880.2 313.8,880.2 315.3,880.2 316.8,880.2 318.3,880.2 319.8,880.2 321.3,880.2 322.8,880.3 324.3,880.3 325.8,880.3 327.3,880.3 328.8,880.3 330.3,880.3 331.8,880.3 333.3,880.3 334.8,880.3 336.3,880.3 337.8,880.4 339.3,880.4 340.8,880.4 342.3,880.4 343.8,880.4 345.3,880.4 346.8,880.4 348.3,880.4 349.8,880.4 351.3,880.4 352.8,880.4 354.3,880.4 355.8,880.4 357.3,880.5 358.8,880.5 360.3,880.5 361.8,880.5 363.3,880.5 364.8,880.5 366.3,880.5 367.8,880.5 369.3,880.5 370.8,880.5 372.3,880.5 373.8,880.5 375.3,880.5 376.8,880.5 378.3,880.5 379.8,880.5 381.3,880.5 382.8,880.5 384.3,880.5 385.8,880.6 387.3,880.6 388.8,880.6 390.3,880.6 391.8,880.6 393.3,880.6 394.8,880.6 396.3,880.6 397.8,880.6 399.3,880.6 400.8,880.6 402.3,880.6 403.8,880.6 405.3,880.6 406.8,880.7 408.3,880.7 409.8,880.7 411.3,880.7 412.8,880.7 414.3,880.7 415.8,880.7 417.3,880.7 418.8,880.7 420.3,880.8 421.8,880.8 423.3,880.8 424.8,880.8 426.3,880.8 427.8,880.8 429.3,880.8 430.8,880.9 432.3,880.9 433.8,880.9 435.3,880.9 436.8,880.9 438.3,881.0 439.8,881.0 441.3,881.0 442.8,881.0 444.3,881.1 445.8,881.1 447.3,881.1 448.8,881.1 450.3,881.2 451.8,881.2 453.3,881.2 454.8,881.2 456.3,881.3 457.8,881.3 459.3,881.3 460.8,881.3 462.3,881.4 463.7,881.4 465.2,881.4 466.7,881.5 468.2,881.5 469.7,881.5 471.2,881.5 472.7,881.6 474.2,881.6 475.7,881.6 477.2,881.7 478.7,881.7 480.2,881.7 481.7,881.8 483.2,881.8 484.7,881.8 486.2,881.8 487.7,881.9 489.2,881.9 490.7,881.9 492.2,882.0 493.7,882.0 495.2,882.0 496.7,882.1 498.2,882.1 499.7,882.1 501.2,882.1 502.7,882.2 504.2,882.2 505.7,882.2 507.2,882.3 508.7,882.3 510.2,882.3 511.7,882.3 513.2,882.4 514.7,882.4 516.3,882.4 517.8,882.4 519.3,882.5 520.8,882.5 522.3,882.5 523.8,882.5 525.3,882.5 526.8,882.6 528.3,882.6 529.8,882.6 531.3,882.5 532.8,882.5 534.3,882.4 535.7,882.3 537.2,882.2 538.7,882.1 540.2,881.9 541.6,881.7 543.1,881.4 544.5,881.1 546.0,880.8 547.4,880.4 548.8,880.0 550.2,879.5 551.6,879.0 553.0,878.5 554.4,878.0 555.8,877.4 557.2,876.8 558.6,876.3 560.0,875.7 561.4,875.1 562.8,874.5 564.2,874.0 565.6,873.4 567.0,872.9 568.4,872.3 569.8,871.7 571.1,871.1 572.5,870.5 573.8,869.9 575.2,869.2 576.5,868.5 577.7,867.8 579.0,867.1 580.2,866.3 581.4,865.4 582.6,864.5 583.7,863.6 584.9,862.6 586.0,861.6 587.1,860.6 588.2,859.6 589.2,858.5 590.3,857.4 591.4,856.3 592.5,855.3 593.5,854.2 594.6,853.1 595.7,852.1 596.8,851.0 597.9,850.0 599.1,849.0 600.2,848.0 601.4,847.1 602.5,846.1 603.7,845.2 604.9,844.3 606.1,843.4 607.2,842.4 608.4,841.5 609.6,840.6 610.7,839.7 611.9,838.7 613.0,837.8 614.1,836.8 615.2,835.8 616.3,834.8 617.3,833.8 618.4,832.7 619.4,831.7 620.5,830.6 621.5,829.5 622.5,828.4 623.6,827.3 624.6,826.2 625.7,825.1 626.7,823.9 627.8,822.8 628.8,821.6 629.9,820.5 631.0,819.4 632.2,818.3 633.3,817.3 634.5,816.3 635.6,815.5 636.9,814.7 638.1,814.1 639.3,813.5 640.6,813.1 641.9,812.7 643.3,812.4 644.7,812.1 646.1,811.9 647.5,811.6 649.0,811.4 650.5,811.2 652.0,811.1 653.6,811.0 655.1,810.9 656.7,810.8 658.2,810.8 659.8,810.9 661.3,811.0 662.8,811.1 664.3,811.3 665.8,811.6 667.2,812.0 668.6,812.3 670.0,812.8 671.4,813.3 672.7,813.9 674.0,814.5 675.3,815.1 676.6,815.8 677.8,816.6 679.1,817.4 680.3,818.2 681.5,819.0 682.7,819.9 683.8,820.8 685.0,821.8 686.1,822.7 687.3,823.7 688.4,824.7 689.5,825.8 690.6,826.8 691.7,827.9 692.7,828.9 693.8,830.0 694.9,831.1 695.9,832.2 697.0,833.2 698.1,834.3 699.1,835.4 700.2,836.5 701.2,837.6 702.2,838.7 703.3,839.7 704.3,840.8 705.3,841.9 706.4,843.0 707.4,844.0 708.4,845.1 709.5,846.2 710.5,847.2 711.5,848.3 712.6,849.4 713.6,850.5 714.6,851.5 715.7,852.6 716.7,853.7 717.7,854.7 718.8,855.8 719.8,856.9 720.9,857.9 721.9,859.0 723.0,860.1 724.0,861.2 725.1,862.2 726.1,863.3 727.2,864.4 728.2,865.5 729.3,866.5 730.4,867.6 731.5,868.7 732.6,869.7 733.7,870.8 734.8,871.8 735.9,872.8 737.0,873.8 738.2,874.8 739.3,875.7 740.5,876.6 741.7,877.6 742.9,878.4 744.1,879.3 745.3,880.2 746.6,881.0 747.8,881.8 749.1,882.6 750.3,883.4 751.6,884.2 752.8,885.0 754.1,885.8 755.4,886.5 756.6,887.3 757.9,888.1 759.2,888.9 760.4,889.7 761.7,890.5 762.9,891.4 764.2,892.2 765.4,893.0 766.6,893.9 767.9,894.8 769.1,895.6 770.3,896.5 771.5,897.4 772.7,898.3 773.9,899.2 775.1,900.1 776.3,901.0 777.5,902.0 778.6,902.9 779.8,903.9 780.9,904.9 782.1,905.8 783.2,906.8 784.3,907.8 785.4,908.9 786.5,909.9 787.5,910.9 788.6,912.0 789.6,913.0 790.7,914.1 791.7,915.2 792.7,916.3 793.7,917.4 794.7,918.5 795.7,919.7 796.6,920.8 797.6,922.0 798.5,923.1 799.5,924.3 800.4,925.5 801.3,926.6 802.2,927.8 803.1,929.0 804.0,930.2 804.9,931.4 805.8,932.6 806.7,933.8 807.5,935.1 808.4,936.3 809.3,937.5 810.1,938.8 811.0,940.0 811.9,941.2 812.7,942.5 813.6,943.7 814.4,944.9 815.3,946.2 816.1,947.4 817.0,948.7 817.8,949.9 818.7,951.2 819.5,952.4 820.3,953.6 821.2,954.9 822.0,956.1 822.8,957.4 823.7,958.6 824.5,959.9 825.3,961.2 826.0,962.4 826.8,963.7 827.6,965.0 828.3,966.3 829.0,967.6 829.7,968.9 830.4,970.2 831.1,971.6 831.7,972.9 832.4,974.3 833.0,975.6 833.6,977.0 834.1,978.4 834.7,979.8 835.3,981.1 835.8,982.5 836.3,983.9 836.9,985.3 837.4,986.8 837.9,988.2 838.3,989.6 838.8,991.0 839.3,992.4 839.8,993.8 840.2,995.3 840.7,996.7 841.2,998.1 841.6,999.5 842.0,1001.0 842.5,1002.4 842.9,1003.8 843.3,1005.3 843.7,1006.7 844.2,1008.1 844.6,1009.6 845.0,1011.0 845.4,1012.5 845.8,1013.9 846.1,1015.4 846.5,1016.8 846.9,1018.3 847.3,1019.7 847.6,1021.2 848.0,1022.6 848.3,1024.1 848.7,1025.5 849.1,1027.0 849.4,1028.5 849.7,1029.9 850.1,1031.4 850.4,1032.9 850.7,1034.3 851.1,1035.8 851.4,1037.2 851.7,1038.7 852.0,1040.2 852.3,1041.6 852.6,1043.1 852.9,1044.6 853.2,1046.1 853.5,1047.5 853.8,1049.0 854.1,1050.5 854.4,1051.9 854.7,1053.4 855.0,1054.9 855.3,1056.4 855.5,1057.8 855.8,1059.3 856.1,1060.8 856.4,1062.3 856.7,1063.8 856.9,1065.2 857.2,1066.7 857.5,1068.2 857.7,1069.7 858.0,1071.1 858.2,1072.6 858.5,1074.1 858.8,1075.6 859.0,1077.0 859.3,1078.5 859.5,1080.0 859.8,1081.5 860.1,1083.0 860.3,1084.4 860.6,1085.9 860.8,1087.4 861.1,1088.9 861.3,1090.3 861.6,1091.8 861.8,1093.3 862.1,1094.8 862.3,1096.2 862.6,1097.7 862.8,1099.2 863.1,1100.7 863.3,1102.2 863.6,1103.6 863.8,1105.1 864.0,1106.6 864.3,1108.1 864.5,1109.5 864.8,1111.0 865.0,1112.5 865.3,1114.0 865.5,1115.4 865.8,1116.9 866.0,1118.4 866.3,1119.9 866.5,1121.4 866.7,1122.8 867.0,1124.3 867.2,1125.8 867.5,1127.3 867.7,1128.7 868.0,1130.2 868.2,1131.7 868.5,1133.2 868.7,1134.7 869.0,1136.1 869.2,1137.6 869.5,1139.1 869.7,1140.6 870.0,1142.1 870.2,1143.5 870.5,1145.0 870.7,1146.5 871.0,1148.0 871.2,1149.5 871.5,1151.0 871.7,1152.4 872.0,1153.9 872.3,1155.4 872.5,1156.9 872.8,1158.4 873.0,1159.9 873.3,1161.3 873.6,1162.8 873.8,1164.3 874.1,1165.8 874.4,1167.3 874.6,1168.8 874.9,1170.3 875.2,1171.7 875.5,1173.2 875.8,1174.7 876.1,1176.2 876.4,1177.6 876.7,1179.1 877.0,1180.6 877.3,1182.0 877.7,1183.5 878.0,1184.9 878.4,1186.3 878.7,1187.8 879.1,1189.0 879.6,1189.8 880.1,1190.0 880.6,1189.4 881.1,1188.3 881.5,1187.1 881.9,1185.8 882.2,1184.3 882.5,1182.8 882.8,1181.3 883.0,1179.8 883.2,1178.2 883.4,1176.7 883.6,1175.1 883.8,1173.6 883.9,1172.1 884.1,1170.6 884.3,1169.0 884.4,1167.5 884.5,1166.0 884.7,1164.5 884.8,1163.0 884.9,1161.5 885.0,1160.0 885.2,1158.5 885.3,1157.0 885.4,1155.5 885.5,1154.0 885.6,1152.5 885.7,1151.0 885.8,1149.5 885.8,1148.0 885.9,1146.5 886.0,1145.0 886.1,1143.5 886.2,1142.0 886.3,1140.5 886.4,1139.0 886.5,1137.6 886.6,1136.1 886.7,1134.6 886.8,1133.1 886.9,1131.6 887.0,1130.1 887.1,1128.6 887.2,1127.1 887.3,1125.6 887.4,1124.2 887.5,1122.7 887.6,1121.2 887.7,1119.7 887.8,1118.2 887.9,1116.7 888.1,1115.2 888.2,1113.7 888.3,1112.2 888.4,1110.7 888.5,1109.2 888.7,1107.7 888.8,1106.2 888.9,1104.7 889.0,1103.3 889.1,1101.8 889.3,1100.3 889.4,1098.8 889.5,1097.3 889.7,1095.8 889.8,1094.3 889.9,1092.8 890.0,1091.3 890.2,1089.8 890.3,1088.3 890.4,1086.8 890.5,1085.3 890.7,1083.8 890.8,1082.3 890.9,1080.8 891.1,1079.3 891.2,1077.8 891.3,1076.3 891.4,1074.8 891.6,1073.3 891.7,1071.8 891.8,1070.3 892.0,1068.8 892.1,1067.4 892.2,1065.9 892.3,1064.4 892.4,1062.9 892.6,1061.4 892.7,1059.9 892.8,1058.4 892.9,1056.9 893.0,1055.4 893.2,1053.9 893.3,1052.4 893.4,1050.9 893.5,1049.4 893.6,1047.9 893.7,1046.4 893.8,1044.9 893.9,1043.4 894.0,1041.9 894.1,1040.4 894.2,1038.9 894.3,1037.4 894.4,1035.9 894.5,1034.4 894.6,1032.9 894.7,1031.4 894.8,1029.9 894.9,1028.4 895.0,1026.9 895.1,1025.4 895.2,1024.0 895.3,1022.5 895.4,1021.0 895.5,1019.5 895.6,1018.0 895.7,1016.5 895.8,1015.0 895.9,1013.5 896.0,1012.0 896.1,1010.5 896.2,1009.0 896.3,1007.5 896.4,1006.0 896.5,1004.5 896.6,1003.0 896.7,1001.5 896.8,1000.0 896.9,998.5 897.0,997.1 897.1,995.6 897.2,994.1 897.4,992.6 897.5,991.1 897.6,989.6 897.7,988.1 897.8,986.6 898.0,985.1 898.1,983.6 898.2,982.1 898.3,980.6 898.5,979.1 898.6,977.6 898.7,976.2 898.9,974.7 899.0,973.2 899.2,971.7 899.3,970.2 899.5,968.7 899.6,967.2 899.8,965.7 900.0,964.2 900.1,962.7 900.3,961.3 900.5,959.8 900.7,958.3 900.9,956.8 901.1,955.3 901.3,953.8 901.5,952.3 901.7,950.8 901.9,949.4 902.1,947.9 902.3,946.4 902.6,944.9 902.8,943.4 903.1,941.9 903.4,940.5 903.7,939.0 903.9,937.5 904.2,936.1 904.6,934.6 904.9,933.1 905.2,931.7 905.6,930.2 906.0,928.7 906.4,927.3 906.8,925.8 907.2,924.4 907.6,922.9 908.1,921.5 908.5,920.1 909.0,918.6 909.5,917.2 910.0,915.8 910.6,914.3 911.1,912.9 911.7,911.6 912.4,910.2 913.1,908.9 913.8,907.7 914.6,906.4 915.4,905.3 916.3,904.2 917.2,903.2 918.3,902.3 919.4,901.4 920.5,900.7 921.8,900.0 923.1,899.5 924.5,899.0 925.9,898.5 927.3,898.2 928.8,897.9 930.4,897.6 931.9,897.4 933.5,897.2 935.1,897.0 936.6,896.8 938.2,896.7 939.8,896.5 941.3,896.3 942.8,896.2 944.4,896.0 945.9,895.9 947.4,895.7 948.9,895.6 950.5,895.4 952.0,895.3 953.5,895.2 955.0,895.0 956.5,894.9 957.9,894.8 959.4,894.6 960.9,894.5 962.4,894.4 963.9,894.3 965.3,894.1 966.8,894.0 968.3,893.9 969.8,893.8 971.2,893.7 972.7,893.5 974.2,893.4 975.6,893.3 977.1,893.2 978.6,893.1 980.1,892.9 981.6,892.8 983.0,892.7 984.5,892.6 986.0,892.5 987.5,892.3 989.0,892.2 990.5,892.1 992.0,892.0 993.5,891.8 994.9,891.7 996.4,891.6 997.9,891.5 999.4,891.3 1000.9,891.2 1002.4,891.1 1003.9,890.9 1005.4,890.8 1006.9,890.7 1008.4,890.5 1009.9,890.4 1011.4,890.3 1012.9,890.1 1014.4,890.0 1015.9,889.8 1017.4,889.7 1018.9,889.5 1020.4,889.4 1021.9,889.2 1023.4,889.1 1024.9,888.9 1026.4,888.7 1027.9,888.6 1029.4,888.4 1030.9,888.3 1032.4,888.1 1033.9,887.9 1035.4,887.7 1036.9,887.6 1038.4,887.4 1039.9,887.2 1041.4,887.0 1042.9,886.9 1044.3,886.7 1045.8,886.5 1047.3,886.3 1048.8,886.1 1050.3,885.9 1051.8,885.7 1053.3,885.6 1054.7,885.4 1056.2,885.2 1057.7,885.0 1059.2,884.8 1060.7,884.6 1062.2,884.4 1063.7,884.2 1065.1,884.0 1066.6,883.8 1068.1,883.6 1069.6,883.4 1071.1,883.2 1072.6,883.0 1074.0,882.8 1075.5,882.6 1077.0,882.4 1078.5,882.2 1080.0,882.0 1081.4,881.8 1082.9,881.6 1084.4,881.3 1085.9,881.1 1087.4,880.9 1088.9,880.7 1090.3,880.5 1091.8,880.3 1093.3,880.1 1094.8,879.9 1096.3,879.7 1097.8,879.5 1099.2,879.3 1100.7,879.1 1102.2,878.9 1103.7,878.7 1105.2,878.5 1106.7,878.3 1108.2,878.1 1109.6,877.9 1111.1,877.7 1112.6,877.5 1114.1,877.3 1115.6,877.1 1117.1,876.8 1118.6,876.6 1120.1,876.4 1121.5,876.2 1123.0,875.9 1124.5,875.7 1126.0,875.4 1127.4,875.1 1128.9,874.8 1130.3,874.5 1131.8,874.2 1133.3,873.9 1134.7,873.5 1136.1,873.2 1137.6,872.8 1139.0,872.4 1140.4,872.0 1141.9,871.6 1143.3,871.1 1144.7,870.7 1146.1,870.2 1147.6,869.8 1149.0,869.3 1150.4,868.8 1151.8,868.3 1153.2,867.8 1154.6,867.3 1156.0,866.8 1157.4,866.3 1158.8,865.7 1160.2,865.2 1161.6,864.6 1163.0,864.0 1164.4,863.4 1165.8,862.8 1167.2,862.2 1168.6,861.6 1169.9,861.0 1171.3,860.3 1172.6,859.7 1174.0,859.0 1175.3,858.3 1176.6,857.6 1177.9,856.9 1179.2,856.2 1180.5,855.4 1181.8,854.6 1183.1,853.9 1184.4,853.1 1185.6,852.3 1186.9,851.4 1188.1,850.6 1189.3,849.7 1190.5,848.9 1191.7,848.0 1192.9,847.1 1194.1,846.2 1195.2,845.2 1196.4,844.3 1197.5,843.3 1198.6,842.3 1199.8,841.4 1200.9,840.3 1202.0,839.3 1203.0,838.3 1204.1,837.3 1205.2,836.2 1206.2,835.1 1207.2,834.0 1208.2,833.0 1209.3,831.9 1210.3,830.7 1211.2,829.6 1212.2,828.5 1213.2,827.3 1214.1,826.2 1215.1,825.0 1216.0,823.8 1216.9,822.6 1217.8,821.4 1218.7,820.2 1219.6,819.0 1220.5,817.8 1221.3,816.5 1222.2,815.3 1223.0,814.0 1223.8,812.8 1224.7,811.5 1225.5,810.2 1226.3,808.9 1227.0,807.7 1227.8,806.4 1228.6,805.1 1229.3,803.7 1230.1,802.4 1230.8,801.1 1231.5,799.8 1232.2,798.5 1232.9,797.1 1233.6,795.8 1234.3,794.4 1234.9,793.1 1235.6,791.7 1236.2,790.4 1236.8,789.0 1237.5,787.6 1238.1,786.3 1238.7,784.9 1239.3,783.5 1239.8,782.1 1240.4,780.8 1241.0,779.4 1241.5,778.0 1242.1,776.6 1242.6,775.2 1243.1,773.8 1243.6,772.4 1244.1,771.0 1244.6,769.6 1245.1,768.2 1245.6,766.8 1246.1,765.4 1246.6,764.0 1247.1,762.6 1247.5,761.1 1248.0,759.7 1248.4,758.3 1248.9,756.9 1249.3,755.5 1249.8,754.0 1250.2,752.6 1250.6,751.2 1251.1,749.8 1251.5,748.3 1251.9,746.9 1252.3,745.5 1252.8,744.0 1253.2,742.6 1253.6,741.1 1254.0,739.7 1254.4,738.3 1254.8,736.8 1255.2,735.4 1255.6,733.9 1256.0,732.5 1256.4,731.0 1256.8,729.6 1257.2,728.1 1257.5,726.7 1257.9,725.2 1258.3,723.8 1258.7,722.3 1259.1,720.9 1259.4,719.4 1259.8,718.0 1260.2,716.5 1260.6,715.1 1260.9,713.6 1261.3,712.2 1261.6,710.7 1262.0,709.3 1262.4,707.8 1262.7,706.3 1263.1,704.9 1263.4,703.4 1263.8,702.0 1264.1,700.5 1264.5,699.1 1264.8,697.6 1265.2,696.1 1265.5,694.7 1265.8,693.2 1266.2,691.8 1266.5,690.3 1266.9,688.8 1267.2,687.4 1267.5,685.9 1267.9,684.4 1268.2,683.0 1268.5,681.5 1268.8,680.1 1269.2,678.6 1269.5,677.1 1269.8,675.7 1270.1,674.2 1270.5,672.7 1270.8,671.3 1271.1,669.8 1271.4,668.3 1271.7,666.9 1272.0,665.4 1272.4,663.9 1272.7,662.5 1273.0,661.0 1273.3,659.5 1273.6,658.1 1273.9,656.6 1274.2,655.1 1274.5,653.7 1274.8,652.2 1275.1,650.7 1275.4,649.3 1275.7,647.8 1276.0,646.3 1276.4,644.9 1276.7,643.4 1277.0,641.9 1277.3,640.5 1277.6,639.0 1277.8,637.5 1278.1,636.1 1278.4,634.6 1278.7,633.1 1279.0,631.6 1279.3,630.2 1279.6,628.7 1279.9,627.2 1280.2,625.8 1280.5,624.3 1280.8,622.8 1281.1,621.4 1281.4,619.9 1281.7,618.4 1282.0,616.9 1282.3,615.5 1282.6,614.0 1282.8,612.5 1283.1,611.1 1283.4,609.6 1283.7,608.1 1284.0,606.6 1284.3,605.2 1284.6,603.7 1284.9,602.2 1285.2,600.8 1285.5,599.3 1285.8,597.8 1286.0,596.3 1286.3,594.9 1286.6,593.4 1286.9,591.9 1287.2,590.5 1287.5,589.0 1287.8,587.5 1288.1,586.1 1288.4,584.6 1288.7,583.1 1289.0,581.6 1289.3,580.2 1289.5,578.7 1289.8,577.2 1290.1,575.8 1290.4,574.3 1290.7,572.8 1291.0,571.3 1291.3,569.9 1291.6,568.4 1291.9,566.9 1292.2,565.5 1292.5,564.0 1292.8,562.5 1293.1,561.1 1293.4,559.6 1293.7,558.1 1294.0,556.6 1294.3,555.2 1294.6,553.7 1294.9,552.2 1295.2,550.8 1295.6,549.3 1295.9,547.8 1296.2,546.4 1296.5,544.9 1296.8,543.4 1297.1,542.0 1297.4,540.5 1297.7,539.0 1298.1,537.6 1298.4,536.1 1298.7,534.6 1299.0,533.2 1299.4,531.7 1299.7,530.2 1300.0,528.8 1300.3,527.3 1300.7,525.9 1301.0,524.4 1301.4,522.9 1301.7,521.5 1302.1,520.0 1302.4,518.6 1302.8,517.1 1303.2,515.7 1303.5,514.2 1303.9,512.8 1304.3,511.3 1304.7,509.9 1305.1,508.4 1305.5,507.0 1305.9,505.6 1306.3,504.1 1306.7,502.7 1307.1,501.3 1307.5,499.8 1308.0,498.4 1308.4,496.9 1308.8,495.5 1309.2,494.0 1309.6,492.6 1310.1,491.1 1310.6,489.7 1311.2,488.4 1312.0,487.0 1312.9,485.8 1314.0,484.6 1315.2,483.6 1316.5,482.7 1317.9,482.0 1319.3,481.5 1320.6,481.4 1321.8,481.5 1322.8,482.0 1323.7,482.8 1324.5,483.9 1325.1,485.1 1325.7,486.5 1326.3,487.9 1326.8,489.4 1327.3,490.8 1327.8,492.2 1328.3,493.7 1328.8,495.1 1329.3,496.5 1329.7,498.0 1330.2,499.4 1330.6,500.9 1331.0,502.3 1331.4,503.8 1331.8,505.2 1332.2,506.7 1332.6,508.2 1333.0,509.6 1333.3,511.1 1333.7,512.5 1334.0,514.0 1334.3,515.5 1334.6,516.9 1334.9,518.4 1335.2,519.9 1335.5,521.4 1335.8,522.8 1336.1,524.3 1336.3,525.8 1336.6,527.3 1336.8,528.7 1337.1,530.2 1337.3,531.7 1337.6,533.2 1337.8,534.7 1338.0,536.1 1338.2,537.6 1338.5,539.1 1338.7,540.6 1338.9,542.1 1339.1,543.6 1339.3,545.1 1339.5,546.5 1339.7,548.0 1339.9,549.5 1340.1,551.0 1340.3,552.5 1340.5,554.0 1340.6,555.5 1340.8,557.0 1341.0,558.4 1341.2,559.9 1341.4,561.4 1341.6,562.9 1341.8,564.4 1342.0,565.9 1342.2,567.4 1342.4,568.9 1342.6,570.3 1342.8,571.8 1343.0,573.3 1343.2,574.8 1343.4,576.3 1343.6,577.8 1343.8,579.2 1344.0,580.7 1344.2,582.2 1344.4,583.7 1344.6,585.2 1344.9,586.7 1345.1,588.1 1345.3,589.6 1345.5,591.1 1345.7,592.6 1345.9,594.1 1346.2,595.5 1346.4,597.0 1346.6,598.5 1346.8,600.0 1347.0,601.5 1347.3,602.9 1347.5,604.4 1347.7,605.9 1347.9,607.4 1348.2,608.9 1348.4,610.3 1348.6,611.8 1348.8,613.3 1349.1,614.8 1349.3,616.3 1349.5,617.8 1349.7,619.2 1350.0,620.7 1350.2,622.2 1350.4,623.7 1350.6,625.2 1350.8,626.6 1351.1,628.1 1351.3,629.6 1351.5,631.1 1351.7,632.6 1351.9,634.1 1352.2,635.5 1352.4,637.0 1352.6,638.5 1352.8,640.0 1353.0,641.5 1353.2,643.0 1353.5,644.4 1353.7,645.9 1353.9,647.4 1354.1,648.9 1354.3,650.4 1354.5,651.9 1354.7,653.4 1354.9,654.9 1355.1,656.3 1355.3,657.8 1355.5,659.3 1355.7,660.8 1355.9,662.3 1356.1,663.8 1356.3,665.3 1356.5,666.8 1356.7,668.3 1356.9,669.8 1357.1,671.3 1357.3,672.7 1357.5,674.2 1357.7,675.7 1357.9,677.2 1358.1,678.7 1358.3,680.2 1358.5,681.7 1358.7,683.2 1358.9,684.7 1359.1,686.2 1359.3,687.7 1359.4,689.1 1359.6,690.6 1359.8,692.1 1360.0,693.6 1360.2,695.1 1360.4,696.6 1360.6,698.1 1360.8,699.6 1361.0,701.1 1361.2,702.6 1361.4,704.0 1361.6,705.5 1361.8,707.0 1362.1,708.5 1362.3,710.0 1362.5,711.5 1362.7,713.0 1362.9,714.4 1363.1,715.9 1363.3,717.4 1363.5,718.9 1363.7,720.4 1364.0,721.9 1364.2,723.3 1364.4,724.8 1364.6,726.3 1364.9,727.8 1365.1,729.3 1365.3,730.7 1365.6,732.2 1365.8,733.7 1366.0,735.2 1366.3,736.6 1366.5,738.1 1366.7,739.6 1367.0,741.1 1367.2,742.5 1367.5,744.0 1367.7,745.5 1368.0,746.9 1368.3,748.4 1368.5,749.9 1368.8,751.3 1369.0,752.8 1369.3,754.3 1369.6,755.7 1369.8,757.2 1370.1,758.7 1370.4,760.1 1370.7,761.6 1371.0,763.1 1371.2,764.5 1371.5,766.0 1371.8,767.5 1372.1,768.9 1372.4,770.4 1372.7,771.8 1373.0,773.3 1373.3,774.8 1373.6,776.2 1373.9,777.7 1374.2,779.2 1374.5,780.6 1374.8,782.1 1375.1,783.5 1375.5,785.0 1375.8,786.5 1376.1,787.9 1376.4,789.4 1376.8,790.9 1377.1,792.3 1377.4,793.8 1377.8,795.3 1378.1,796.7 1378.4,798.2 1378.8,799.7 1379.1,801.1 1379.5,802.6 1379.8,804.1 1380.2,805.5 1380.5,807.0 1380.9,808.5 1381.3,809.9 1381.6,811.4 1382.0,812.9 1382.4,814.4 1382.7,815.8 1383.1,817.3 1383.5,818.8 1383.9,820.3 1384.2,821.7 1384.6,823.2 1385.0,824.7 1385.4,826.2 1385.8,827.7 1386.2,829.1 1386.6,830.6 1387.0,832.1 1387.5,833.6 1387.9,835.0 1388.4,836.5 1388.8,837.9 1389.3,839.4 1389.8,840.8 1390.3,842.2 1390.8,843.6 1391.4,845.0 1392.0,846.3 1392.6,847.7 1393.2,849.0 1393.8,850.3 1394.5,851.6 1395.2,852.8 1396.0,854.1 1396.7,855.3 1397.5,856.5 1398.4,857.6 1399.2,858.7 1400.1,859.8 1401.1,860.9 1402.1,861.9 1403.1,862.9 1404.2,863.9 1405.3,864.8 1406.5,865.6 1407.7,866.5 1408.9,867.3 1410.2,868.0 1411.5,868.8 1412.9,869.4 1414.2,870.1 1415.6,870.6 1417.1,871.2 1418.5,871.7 1420.0,872.1 1421.4,872.5 1422.9,872.9 1424.4,873.2 1425.9,873.4 1427.4,873.6 1428.8,873.7 1430.3,873.9 1431.8,873.9 1433.3,874.0 1434.8,874.0 1436.3,874.0 1437.8,873.9 1439.3,873.9 1440.8,873.8 1442.3,873.7 1443.8,873.6 1445.3,873.6 1446.8,873.5 1448.3,873.4 1449.8,873.3 1451.3,873.3 1452.8,873.2 1454.3,873.2 1455.8,873.1 1457.3,873.0 1458.8,873.0 1460.3,872.9 1461.8,872.9 1463.3,872.8 1464.8,872.8 1466.3,872.7 1467.8,872.7 1469.3,872.7 1470.8,872.6 1472.3,872.6 1473.8,872.6 1475.3,872.5 1476.8,872.5 1478.3,872.5 1479.8,872.4 1481.3,872.4 1482.8,872.4 1484.3,872.4 1485.8,872.4 1487.3,872.3 1488.8,872.3 1490.3,872.3 1491.8,872.3 1493.3,872.3 1494.8,872.3 1496.3,872.3 1497.8,872.3 1499.3,872.2 1500.8,872.2 1502.3,872.2 1503.8,872.2 1505.3,872.2 1506.8,872.2 1508.3,872.2 1509.8,872.2 1511.3,872.2 1512.8,872.2 1514.3,872.2 1515.8,872.2 1517.3,872.2 1518.8,872.2 1520.3,872.2 1521.8,872.2 1523.3,872.2 1524.8,872.2 1526.3,872.2 1527.8,872.2 1529.3,872.2 1530.8,872.3 1532.3,872.3 1533.8,872.3 1535.3,872.3 1536.8,872.3 1538.3,872.3 1539.8,872.3 1541.3,872.3 1542.8,872.3 1544.3,872.3 1545.8,872.3 1547.3,872.3 1548.8,872.3 1550.3,872.3 1551.8,872.3 1553.3,872.3 1554.8,872.3 1556.3,872.3 1557.8,872.3 1559.3,872.3 1560.8,872.3 1562.3,872.3 1563.8,872.3 1565.3,872.3 1566.8,872.3 1568.3,872.3 1569.8,872.3 1571.3,872.3 1572.8,872.3 1574.3,872.3 1575.8,872.3 1577.3,872.3 1578.8,872.3 1580.3,872.3 1581.8,872.3 1583.3,872.3 1584.8,872.3 1586.3,872.3 1587.8,872.3 1589.3,872.3 1590.8,872.3 1592.3,872.4 1593.8,872.4 1595.3,872.4 1596.8,872.4 1598.3,872.4 1599.8,872.4 1601.2,872.4 1602.7,872.4 1604.2,872.4 1605.7,872.4 1607.2,872.4 1608.7,872.4 1610.2,872.4 1611.7,872.5 1613.2,872.5 1614.7,872.5 1616.2,872.5 1617.7,872.5 1619.2,872.5 1620.7,872.5 1622.2,872.5 1623.7,872.6 1625.2,872.6 1626.7,872.6 1628.2,872.6 1629.7,872.6 1631.2,872.6 1632.7,872.7 1634.2,872.7 1635.7,872.7 1637.2,872.7 1638.7,872.7 1640.2,872.8 1641.7,872.8 1643.2,872.8 1644.7,872.8 1646.2,872.8 1647.7,872.9 1649.2,872.9 1650.7,872.9 1652.2,872.9 1653.7,872.9 1655.2,873.0 1656.7,873.0 1658.2,873.0 1659.7,873.0 1661.2,873.0 1662.7,873.0 1664.2,873.0 1665.7,873.0 1667.2,873.0 1668.7,873.0 1670.2,873.0 1671.7,873.0 1673.2,873.0 1674.7,873.0 1676.2,873.0 1677.7,873.0 1679.2,873.0 1680.7,873.0 1682.2,873.0 1683.7,873.0 1685.1,873.0 1686.6,872.9 1688.1,872.9 1689.6,872.9 1691.1,872.8 1692.6,872.8 1694.1,872.8 1695.6,872.7 1697.1,872.7 1698.6,872.6 1700.1,872.6 1701.6,872.5 1703.1,872.5 1704.6,872.4 1706.1,872.3 1707.6,872.3 1709.1,872.2 1710.6,872.1 1712.1,872.0 1713.6,871.9 1715.1,871.9 1716.6,871.8 1718.1,871.7 1719.6,871.6 1721.1,871.5 1722.6,871.3 1724.1,871.2 1725.6,871.1 1727.1,871.0 1728.5,870.9 1730.0,870.8 1731.5,870.7 1733.0,870.6 1734.5,870.5 1736.0,870.4 1737.5,870.3 1739.0,870.2 1740.5,870.1 1742.0,870.0 1743.5,869.9 1745.0,869.8 1746.5,869.8 1748.0,869.7 1749.5,869.6 1751.0,869.6 1752.5,869.5 1754.0,869.5 1755.5,869.5 1757.0,869.5 1758.5,869.5 1760.0,869.5 1761.5,869.5 1763.0,869.5 1764.5,869.5 1766.0,869.6 1767.5,869.6 1769.0,869.7 1770.5,869.7 1772.0,869.8 1773.5,869.9 1775.0,869.9 1776.5,870.0 1778.0,870.1 1779.5,870.1 1781.0,870.2 1782.5,870.2 1784.0,870.3 1785.5,870.3 1787.0,870.3 1788.5,870.3 1790.0,870.3 1791.5,870.3 1793.0,870.3 1794.5,870.3 1796.0,870.2 1797.5,870.2 1799.0,870.1 1800.5,870.0 1802.0,869.9 1803.5,869.7 1805.0,869.6"/>
<path stroke="#006CE0" d="M157.9,880.4L159.3,880.9 160.7,881.3 162.1,881.7 163.6,881.9 165.0,882.2 166.5,882.3 167.9,882.4 169.4,882.5 170.8,882.5 172.3,882.5 173.8,882.4 175.3,882.4 176.8,882.2 178.3,882.1 179.8,882.0 181.3,881.8 182.8,881.7 184.3,881.5 185.8,881.4 187.3,881.2 188.8,881.1 190.3,881.0 191.8,880.9 193.3,880.8 194.8,880.7 196.3,880.7 197.8,880.6 199.3,880.6 200.8,880.5 202.3,880.5 203.8,880.5 205.3,880.4 206.8,880.4 208.3,880.4 209.8,880.4 211.3,880.4 212.8,880.4 214.3,880.4 215.8,880.4 217.3,880.4 218.8,880.4 220.3,880.4 221.8,880.4 223.3,880.4 224.8,880.4 226.3,880.4 227.8,880.4 229.3,880.4 230.8,880.5 232.3,880.5 233.8,880.5 235.3,880.5 236.8,880.5 238.3,880.5 239.8,880.5 241.3,880.5 242.8,880.5 244.3,880.5 245.8,880.6 247.3,880.6 248.8,880.6 250.3,880.6 251.8,880.6 253.3,880.6 254.8,880.6 256.3,880.7 257.8,880.7 259.3,880.7 260.8,880.7 262.3,880.7 263.8,880.7 265.3,880.7 266.8,880.8 268.3,880.8 269.8,880.8 271.3,880.8 272.8,880.8 274.3,880.8 275.8,880.9 277.3,880.9 278.8,880.9 280.3,880.9 281.8,880.9 283.3,881.0 284.8,881.0 286.3,881.0 287.8,881.0 289.3,881.0 290.8,881.1 292.3,881.1 293.8,881.1 295.3,881.1 296.8,881.1 298.3,881.2 299.8,881.2 301.3,881.2 302.8,881.2 304.3,881.2 305.8,881.3 307.3,881.3 308.8,881.3 310.3,881.3 311.8,881.4 313.3,881.4 314.8,881.4 316.3,881.4 317.8,881.5 319.3,881.5 320.7,881.5 322.2,881.5 323.7,881.6 325.2,881.6 326.7,881.6 328.2,881.6 329.7,881.7 331.2,881.7 332.7,881.7 334.2,881.8 335.7,881.8 337.2,881.8 338.7,881.9 340.2,881.9 341.7,881.9 343.2,882.0 344.7,882.0 346.2,882.1 347.7,882.1 349.2,882.1 350.7,882.2 352.2,882.2 353.7,882.3 355.2,882.3 356.7,882.3 358.2,882.4 359.7,882.4 361.2,882.5 362.7,882.5 364.2,882.6 365.7,882.6 367.2,882.7 368.7,882.7 370.2,882.8 371.7,882.8 373.2,882.9 374.7,882.9 376.2,883.0 377.7,883.0 379.2,883.1 380.7,883.2 382.2,883.2 383.7,883.3 385.2,883.3 386.7,883.4 388.2,883.5 389.7,883.5 391.2,883.6 392.6,883.7 394.1,883.7 395.6,883.8 397.1,883.9 398.6,884.0 400.1,884.0 401.6,884.1 403.1,884.2 404.6,884.3 406.1,884.3 407.6,884.4 409.1,884.5 410.6,884.6 412.1,884.7 413.6,884.8 415.1,884.8 416.6,884.9 418.1,885.0 419.6,885.1 421.1,885.2 422.6,885.2 424.1,885.3 425.6,885.4 427.1,885.5 428.6,885.5 430.1,885.6 431.6,885.7 433.1,885.7 434.6,885.8 436.1,885.8 437.6,885.9 439.1,885.9 440.5,886.0 442.0,886.0 443.5,886.0 445.0,886.0 446.5,886.1 448.0,886.1 449.5,886.1 451.0,886.1 452.5,886.1 454.0,886.1 455.5,886.1 457.0,886.1 458.5,886.1 460.0,886.1 461.5,886.1 463.0,886.0 464.5,886.0 466.0,886.0 467.5,886.0 469.0,886.0 470.5,886.0 472.0,886.0 473.5,886.0 475.0,886.0 476.6,886.0 478.1,886.0 479.6,886.0 481.1,886.0 482.6,885.9 484.1,885.9 485.6,885.9 487.1,885.9 488.6,885.9 490.1,885.8 491.6,885.8 493.1,885.7 494.6,885.7 496.1,885.6 497.6,885.5 499.1,885.4 500.6,885.4 502.1,885.2 503.6,885.1 505.0,885.0 506.5,884.9 508.0,884.7 509.5,884.5 511.0,884.3 512.5,884.1 513.9,883.9 515.4,883.6 516.8,883.3 518.3,883.0 519.7,882.6 521.1,882.2 522.5,881.8 523.9,881.4 525.3,880.9 526.7,880.4 528.0,879.8 529.4,879.2 530.7,878.6 532.1,877.9 533.4,877.2 534.7,876.5 536.0,875.8 537.3,875.2 538.7,874.5 540.1,874.0 541.4,873.4 542.8,872.9 544.2,872.3 545.6,871.8 547.0,871.2 548.3,870.6 549.6,869.9 551.0,869.3 552.3,868.6 553.6,867.9 554.9,867.1 556.2,866.4 557.5,865.6 558.7,864.9 560.0,864.1 561.2,863.3 562.5,862.5 563.7,861.6 565.0,860.8 566.2,860.0 567.4,859.1 568.6,858.3 569.9,857.5 571.1,856.6 572.4,855.8 573.6,854.9 574.9,854.1 576.1,853.3 577.4,852.5 578.7,851.6 580.0,850.8 581.3,850.1 582.6,849.3 583.9,848.5 585.3,847.8 586.7,847.1 588.0,846.4 589.4,845.9 590.8,845.3 592.2,844.9 593.6,844.6 595.0,844.4 596.5,844.3 597.9,844.3 599.3,844.4 600.7,844.7 602.1,845.0 603.5,845.5 604.9,845.9 606.3,846.5 607.6,847.0 609.0,847.6 610.3,848.1 611.7,848.7 613.0,849.4 614.3,850.0 615.6,850.7 616.9,851.4 618.2,852.1 619.5,852.8 620.7,853.6 622.0,854.4 623.2,855.2 624.5,856.0 625.7,856.9 626.9,857.8 628.1,858.7 629.3,859.7 630.5,860.7 631.7,861.7 632.8,862.7 634.0,863.8 635.1,864.8 636.3,865.9 637.4,867.0 638.5,868.0 639.7,869.1 640.8,870.1 641.9,871.1 643.0,872.1 644.2,873.1 645.3,874.0 646.4,874.8 647.6,875.6 648.7,876.4 649.8,877.1 651.0,877.7 652.1,878.2 653.3,878.7 654.5,879.0 655.7,879.3 656.9,879.4 658.2,879.4 659.5,879.3 660.9,879.2 662.2,879.0 663.7,878.7 665.1,878.5 666.5,878.2 668.0,878.0 669.5,877.8 671.0,877.6 672.5,877.5 674.0,877.3 675.5,877.2 677.1,877.1 678.6,877.0 680.1,876.9 681.6,876.8 683.1,876.7 684.6,876.7 686.2,876.6 687.7,876.5 689.2,876.5 690.7,876.4 692.2,876.4 693.7,876.3 695.2,876.3 696.7,876.3 698.2,876.2 699.7,876.2 701.2,876.2 702.7,876.1 704.2,876.1 705.7,876.1 707.2,876.1 708.7,876.0 710.1,876.0 711.6,876.0 713.1,876.0 714.6,875.9 716.1,875.9 717.6,875.9 719.1,875.8 720.6,875.8 722.1,875.7 723.6,875.7 725.1,875.6 726.5,875.6 728.0,875.5 729.5,875.4 731.0,875.3 732.5,875.3 734.0,875.2 735.5,875.1 737.0,874.9 738.5,874.8 740.0,874.7 741.5,874.6 743.0,874.4 744.5,874.3 746.0,874.1 747.5,873.9 749.0,873.8 750.5,873.6 752.0,873.4 753.5,873.2 755.0,873.0 756.5,872.9 758.0,872.7 759.5,872.5 761.0,872.3 762.5,872.2 764.0,872.0 765.5,871.9 767.0,871.7 768.5,871.6 770.0,871.5 771.5,871.4 772.9,871.3 774.4,871.2 775.9,871.1 777.4,871.1 778.9,871.1 780.4,871.1 781.9,871.1 783.3,871.1 784.8,871.2 786.3,871.3 787.8,871.4 789.2,871.5 790.7,871.7 792.2,871.9 793.6,872.1 795.1,872.3 796.5,872.6 798.0,872.9 799.4,873.3 800.9,873.7 802.3,874.1 803.8,874.5 805.2,875.0 806.6,875.6 808.0,876.2 809.4,876.8 810.8,877.5 812.1,878.2 813.5,878.9 814.7,879.7 816.0,880.6 817.2,881.5 818.3,882.5 819.4,883.5 820.4,884.5 821.4,885.6 822.4,886.7 823.4,887.8 824.3,889.0 825.2,890.2 826.1,891.3 827.0,892.5 827.9,893.7 828.8,894.9 829.7,896.1 830.6,897.3 831.5,898.5 832.4,899.7 833.3,900.9 834.2,902.1 835.1,903.3 836.0,904.5 836.8,905.7 837.7,907.0 838.6,908.2 839.5,909.4 840.3,910.6 841.2,911.9 842.0,913.1 842.9,914.3 843.7,915.6 844.6,916.8 845.4,918.1 846.2,919.4 847.1,920.6 847.9,921.9 848.7,923.2 849.4,924.5 850.2,925.7 851.0,927.0 851.7,928.3 852.5,929.6 853.2,930.9 853.9,932.2 854.6,933.5 855.2,934.9 855.9,936.2 856.5,937.5 857.1,938.9 857.7,940.2 858.2,941.6 858.8,943.0 859.3,944.4 859.8,945.8 860.3,947.3 860.8,948.7 861.3,950.2 861.9,951.6 862.4,953.0 863.0,954.5 863.7,955.9 864.4,957.3 865.2,958.6 866.1,960.0 867.0,961.2 868.0,962.4 869.1,963.5 870.1,964.4 871.2,965.1 872.4,965.7 873.5,966.0 874.7,966.1 875.8,965.9 876.9,965.4 878.0,964.8 879.1,964.0 880.1,963.0 881.1,961.9 882.0,960.6 882.9,959.3 883.6,957.9 884.3,956.5 884.8,955.0 885.3,953.6 885.7,952.1 886.0,950.6 886.3,949.1 886.6,947.6 886.8,946.1 887.0,944.6 887.1,943.1 887.3,941.6 887.6,940.1 887.8,938.7 888.0,937.2 888.3,935.7 888.6,934.2 888.9,932.7 889.2,931.2 889.5,929.8 889.8,928.3 890.1,926.8 890.4,925.4 890.7,923.9 891.0,922.4 891.3,921.0 891.6,919.5 891.9,918.0 892.2,916.6 892.5,915.1 892.8,913.7 893.1,912.2 893.3,910.8 893.5,909.3 893.8,907.8 894.0,906.4 894.2,904.9 894.4,903.5 894.6,902.0 894.8,900.5 894.9,899.1 895.1,897.6 895.3,896.1 895.5,894.6 895.7,893.1 895.9,891.7 896.2,890.2 896.4,888.7 896.6,887.2 896.9,885.7 897.2,884.2 897.5,882.6 897.8,881.1 898.2,879.6 898.5,878.1 899.0,876.5 899.4,875.1 900.0,873.7 900.5,872.3 901.2,871.0 901.9,869.9 902.8,868.8 903.7,867.9 904.7,867.1 905.9,866.5 907.1,866.1 908.4,865.7 909.8,865.5 911.3,865.4 912.8,865.3 914.3,865.3 915.8,865.4 917.4,865.4 918.9,865.5 920.5,865.6 922.0,865.7 923.5,865.8 925.1,865.9 926.6,866.0 928.1,866.1 929.6,866.2 931.1,866.4 932.6,866.5 934.1,866.7 935.6,866.8 937.1,867.0 938.6,867.2 940.1,867.4 941.6,867.6 943.0,867.8 944.5,868.0 946.0,868.2 947.5,868.4 948.9,868.6 950.4,868.9 951.9,869.1 953.3,869.4 954.8,869.6 956.3,869.9 957.7,870.2 959.2,870.4 960.7,870.7 962.1,871.0 963.6,871.3 965.0,871.6 966.5,871.9 968.0,872.2 969.4,872.5 970.9,872.9 972.3,873.2 973.8,873.5 975.3,873.9 976.7,874.2 978.2,874.5 979.7,874.9 981.1,875.2 982.6,875.5 984.1,875.8 985.6,876.1 987.0,876.4 988.5,876.7 990.0,877.0 991.5,877.3 992.9,877.5 994.4,877.7 995.9,878.0 997.4,878.2 998.9,878.3 1000.3,878.5 1001.8,878.6 1003.3,878.7 1004.8,878.8 1006.3,878.9 1007.8,878.9 1009.3,879.0 1010.8,879.0 1012.3,879.0 1013.8,879.0 1015.3,879.0 1016.8,879.0 1018.3,878.9 1019.8,878.9 1021.3,878.9 1022.8,878.8 1024.3,878.8 1025.8,878.8 1027.3,878.8 1028.8,878.7 1030.3,878.7 1031.8,878.7 1033.3,878.7 1034.8,878.7 1036.3,878.7 1037.8,878.8 1039.3,878.8 1040.8,878.9 1042.3,878.9 1043.8,879.0 1045.3,879.0 1046.8,879.1 1048.3,879.2 1049.7,879.3 1051.2,879.4 1052.7,879.5 1054.2,879.6 1055.7,879.7 1057.2,879.8 1058.7,879.9 1060.2,880.0 1061.7,880.1 1063.2,880.2 1064.7,880.4 1066.2,880.5 1067.7,880.6 1069.2,880.7 1070.7,880.8 1072.2,880.9 1073.7,881.0 1075.2,881.1 1076.7,881.1 1078.2,881.2 1079.7,881.3 1081.2,881.3 1082.7,881.3 1084.2,881.3 1085.7,881.3 1087.2,881.2 1088.7,881.2 1090.2,881.1 1091.7,881.0 1093.2,880.8 1094.6,880.7 1096.1,880.5 1097.6,880.2 1099.0,880.0 1100.5,879.6 1101.9,879.3 1103.3,878.9 1104.8,878.4 1106.1,877.9 1107.5,877.4 1108.9,876.8 1110.2,876.1 1111.5,875.4 1112.9,874.7 1114.2,873.9 1115.5,873.2 1116.8,872.5 1118.1,871.7 1119.5,871.0 1120.8,870.4 1122.2,869.7 1123.6,869.1 1125.0,868.5 1126.3,868.0 1127.7,867.4 1129.1,866.9 1130.5,866.3 1131.9,865.8 1133.3,865.3 1134.8,864.7 1136.2,864.2 1137.6,863.7 1139.0,863.2 1140.3,862.6 1141.7,862.1 1143.1,861.5 1144.5,860.9 1145.8,860.3 1147.2,859.7 1148.5,859.0 1149.9,858.4 1151.2,857.7 1152.5,857.0 1153.8,856.2 1155.1,855.5 1156.3,854.7 1157.6,853.9 1158.9,853.1 1160.1,852.3 1161.3,851.5 1162.5,850.6 1163.8,849.7 1165.0,848.8 1166.1,847.9 1167.3,847.0 1168.5,846.1 1169.6,845.1 1170.8,844.1 1171.9,843.1 1173.0,842.1 1174.1,841.1 1175.2,840.1 1176.3,839.1 1177.4,838.0 1178.5,836.9 1179.5,835.9 1180.6,834.8 1181.6,833.7 1182.6,832.6 1183.6,831.4 1184.6,830.3 1185.6,829.2 1186.6,828.0 1187.5,826.9 1188.5,825.7 1189.4,824.5 1190.3,823.3 1191.2,822.1 1192.1,820.9 1193.0,819.7 1193.9,818.5 1194.8,817.3 1195.6,816.0 1196.5,814.8 1197.3,813.6 1198.2,812.3 1199.0,811.1 1199.8,809.8 1200.6,808.6 1201.4,807.3 1202.2,806.0 1203.0,804.7 1203.7,803.5 1204.5,802.2 1205.3,800.9 1206.0,799.6 1206.8,798.3 1207.5,797.0 1208.3,795.7 1209.0,794.4 1209.8,793.1 1210.5,791.8 1211.2,790.5 1212.0,789.2 1212.7,787.9 1213.4,786.6 1214.2,785.3 1214.9,784.0 1215.6,782.7 1216.3,781.4 1217.1,780.1 1217.8,778.8 1218.5,777.5 1219.3,776.2 1220.0,774.9 1220.7,773.6 1221.5,772.3 1222.2,771.0 1223.0,769.7 1223.7,768.5 1224.5,767.2 1225.3,765.9 1226.0,764.6 1226.8,763.4 1227.6,762.1 1228.4,760.8 1229.1,759.6 1229.9,758.3 1230.7,757.0 1231.6,755.7 1232.4,754.5 1233.2,753.2 1234.0,751.9 1234.9,750.7 1235.7,749.4 1236.6,748.1 1237.5,746.9 1238.3,745.6 1239.2,744.3 1240.1,743.1 1241.1,741.8 1242.0,740.7 1243.0,739.5 1244.1,738.5 1245.2,737.5 1246.3,736.6 1247.5,735.8 1248.8,735.2 1250.1,734.6 1251.5,734.3 1252.8,734.0 1254.2,733.9 1255.5,734.0 1256.7,734.3 1257.9,734.8 1259.1,735.4 1260.1,736.3 1261.1,737.2 1262.1,738.3 1263.0,739.6 1263.8,740.9 1264.6,742.2 1265.4,743.7 1266.1,745.1 1266.8,746.5 1267.5,748.0 1268.2,749.4 1268.8,750.8 1269.5,752.1 1270.1,753.5 1270.7,754.8 1271.4,756.2 1272.0,757.5 1272.6,758.8 1273.2,760.1 1273.9,761.5 1274.5,762.8 1275.2,764.1 1275.8,765.5 1276.5,766.8 1277.1,768.1 1277.8,769.5 1278.5,770.8 1279.1,772.2 1279.8,773.5 1280.4,774.8 1281.1,776.2 1281.8,777.5 1282.4,778.9 1283.1,780.2 1283.8,781.6 1284.4,782.9 1285.1,784.3 1285.7,785.7 1286.4,787.0 1287.0,788.4 1287.7,789.8 1288.3,791.1 1289.0,792.5 1289.6,793.9 1290.2,795.2 1290.9,796.6 1291.5,798.0 1292.1,799.4 1292.7,800.7 1293.3,802.1 1293.9,803.5 1294.5,804.9 1295.1,806.2 1295.7,807.6 1296.3,809.0 1296.8,810.4 1297.4,811.8 1297.9,813.1 1298.5,814.5 1299.0,815.9 1299.6,817.3 1300.1,818.6 1300.7,820.0 1301.2,821.4 1301.8,822.8 1302.3,824.1 1302.9,825.5 1303.5,826.9 1304.1,828.2 1304.7,829.6 1305.3,831.0 1305.9,832.3 1306.6,833.7 1307.2,835.0 1307.9,836.4 1308.6,837.7 1309.3,839.1 1310.1,840.4 1310.8,841.7 1311.6,843.0 1312.4,844.3 1313.3,845.6 1314.1,846.9 1315.0,848.1 1315.9,849.4 1316.8,850.6 1317.8,851.7 1318.8,852.9 1319.8,854.0 1320.8,855.1 1321.9,856.2 1322.9,857.2 1324.0,858.2 1325.2,859.1 1326.3,860.0 1327.5,860.9 1328.7,861.7 1330.0,862.4 1331.2,863.2 1332.5,863.9 1333.8,864.5 1335.2,865.1 1336.5,865.7 1337.9,866.2 1339.3,866.7 1340.7,867.2 1342.1,867.7 1343.5,868.1 1345.0,868.5 1346.4,868.9 1347.9,869.2 1349.4,869.6 1350.9,869.9 1352.3,870.2 1353.8,870.4 1355.3,870.7 1356.8,871.0 1358.3,871.2 1359.8,871.4 1361.2,871.7 1362.7,871.9 1364.2,872.1 1365.7,872.3 1367.2,872.4 1368.7,872.6 1370.2,872.8 1371.7,872.9 1373.2,873.1 1374.7,873.2 1376.2,873.3 1377.6,873.4 1379.1,873.5 1380.6,873.6 1382.1,873.7 1383.6,873.8 1385.1,873.9 1386.6,874.0 1388.1,874.0 1389.6,874.1 1391.1,874.2 1392.6,874.2 1394.1,874.3 1395.6,874.3 1397.1,874.3 1398.6,874.4 1400.1,874.4 1401.6,874.4 1403.1,874.5 1404.6,874.5 1406.1,874.5 1407.6,874.5 1409.1,874.5 1410.6,874.5 1412.1,874.5 1413.6,874.6 1415.1,874.6 1416.6,874.6 1418.1,874.6 1419.6,874.6 1421.1,874.6 1422.6,874.6 1424.1,874.6 1425.6,874.6 1427.1,874.6 1428.6,874.6 1430.1,874.6 1431.6,874.7 1433.1,874.7 1434.6,874.7 1436.1,874.7 1437.6,874.7 1439.1,874.7 1440.6,874.7 1442.1,874.7 1443.6,874.7 1445.1,874.7 1446.6,874.7 1448.1,874.7 1449.6,874.7 1451.1,874.7 1452.6,874.7 1454.1,874.8 1455.6,874.8 1457.1,874.8 1458.6,874.8 1460.1,874.8 1461.6,874.8 1463.1,874.8 1464.6,874.8 1466.1,874.8 1467.6,874.8 1469.1,874.8 1470.6,874.8 1472.1,874.8 1473.6,874.8 1475.1,874.8 1476.6,874.8 1478.1,874.8 1479.6,874.9 1481.1,874.9 1482.6,874.9 1484.1,874.9 1485.6,874.9 1487.1,874.9 1488.6,874.9 1490.1,874.9 1491.6,874.9 1493.1,874.9 1494.6,874.9 1496.1,874.9 1497.6,874.9 1499.1,874.9 1500.6,874.9 1502.1,874.9 1503.6,874.9 1505.1,874.9 1506.6,875.0 1508.1,875.0 1509.6,875.0 1511.1,875.0 1512.6,875.0 1514.1,875.0 1515.6,875.0 1517.1,875.0 1518.6,875.0 1520.1,875.0 1521.6,875.0 1523.1,875.0 1524.6,875.0 1526.1,875.0 1527.6,875.0 1529.1,875.0 1530.6,875.0 1532.1,875.0 1533.6,875.0 1535.1,875.1 1536.6,875.1 1538.1,875.1 1539.6,875.1 1541.1,875.1 1542.6,875.1 1544.1,875.1 1545.6,875.1 1547.1,875.1 1548.6,875.1 1550.1,875.1 1551.6,875.1 1553.1,875.1 1554.6,875.1 1556.1,875.1 1557.6,875.1 1559.1,875.1 1560.6,875.1 1562.1,875.2 1563.6,875.2 1565.1,875.2 1566.6,875.2 1568.1,875.2 1569.6,875.2 1571.1,875.2 1572.6,875.2 1574.1,875.2 1575.6,875.2 1577.1,875.2 1578.6,875.2 1580.1,875.2 1581.6,875.2 1583.1,875.2 1584.6,875.2 1586.1,875.2 1587.6,875.2 1589.1,875.3 1590.6,875.3 1592.1,875.3 1593.6,875.3 1595.1,875.3 1596.5,875.3 1598.0,875.3 1599.5,875.3 1601.0,875.3 1602.5,875.3 1604.0,875.3 1605.5,875.3 1607.0,875.3 1608.5,875.3 1610.0,875.3 1611.5,875.3 1613.0,875.3 1614.5,875.4 1616.0,875.4 1617.5,875.4 1619.0,875.4 1620.5,875.4 1622.0,875.4 1623.5,875.4 1625.0,875.4 1626.5,875.4 1628.0,875.4 1629.5,875.4 1631.0,875.4 1632.5,875.4 1634.0,875.4 1635.5,875.4 1637.0,875.4 1638.5,875.4 1640.0,875.4 1641.5,875.5 1643.0,875.5 1644.5,875.5 1646.0,875.5 1647.5,875.5 1649.0,875.5 1650.5,875.5 1652.0,875.5 1653.5,875.5 1655.0,875.5 1656.5,875.5 1658.0,875.5 1659.5,875.5 1661.0,875.5 1662.5,875.5 1664.0,875.5 1665.5,875.5 1667.0,875.6 1668.5,875.6 1670.0,875.6 1671.5,875.6 1673.0,875.6 1674.5,875.6 1676.0,875.6 1677.5,875.6 1679.0,875.6 1680.5,875.6 1682.0,875.6 1683.5,875.6 1685.0,875.6 1686.5,875.6 1688.0,875.6 1689.5,875.6 1691.0,875.6 1692.5,875.6 1694.0,875.6 1695.5,875.7 1697.0,875.7 1698.5,875.7 1700.0,875.7 1701.5,875.7 1703.0,875.7 1704.5,875.7 1706.0,875.7 1707.5,875.7 1709.0,875.7 1710.5,875.7 1712.0,875.7 1713.5,875.7 1715.0,875.7 1716.5,875.7 1718.0,875.7 1719.5,875.7 1721.0,875.7 1722.5,875.7 1724.0,875.7 1725.5,875.8 1727.0,875.8 1728.5,875.8 1730.0,875.8 1731.5,875.8 1733.0,875.8 1734.5,875.8 1736.0,875.8 1737.5,875.8 1739.0,875.8 1740.5,875.8 1742.0,875.8 1743.5,875.8 1745.0,875.8 1746.5,875.8 1748.0,875.8 1749.5,875.8 1751.0,875.8 1752.5,875.8 1754.0,875.8 1755.5,875.8 1757.0,875.8 1758.5,875.8 1760.0,875.8 1761.5,875.9 1763.0,875.9 1764.5,875.9 1766.0,875.9 1767.5,875.9 1769.0,875.9 1770.5,875.9 1772.0,875.9 1773.5,875.9 1775.0,875.9 1776.5,875.9 1778.0,875.9 1779.5,875.9 1781.0,875.9 1782.5,875.9 1784.0,875.9 1785.5,875.9 1787.0,875.9 1788.5,875.9 1790.0,875.9 1791.5,875.9 1793.0,875.9 1794.5,875.9 1796.0,875.9 1797.5,875.9 1799.0,875.9 1800.5,875.9 1802.0,875.9 1803.5,875.9 1805.0,875.9"/>
<path stroke="#00AE64" d="M158.1,879.4L159.5,879.5 161.0,879.5 162.5,879.5 164.0,879.4 165.4,879.3 166.9,879.1 168.4,878.9 169.8,878.6 171.3,878.4 172.8,878.1 174.2,877.8 175.7,877.6 177.2,877.3 178.6,877.1 180.1,876.9 181.6,876.7 183.0,876.6 184.5,876.6 186.0,876.6 187.4,876.7 188.9,876.9 190.4,877.1 191.9,877.4 193.3,877.6 194.8,878.0 196.3,878.3 197.7,878.6 199.2,878.9 200.7,879.1 202.1,879.3 203.6,879.5 205.1,879.6 206.5,879.8 208.0,879.8 209.4,879.9 210.9,880.0 212.4,880.0 213.8,880.0 215.3,880.0 216.8,880.0 218.3,880.0 219.7,880.0 221.2,880.0 222.7,879.9 224.2,879.9 225.7,879.9 227.2,879.8 228.7,879.8 230.2,879.7 231.7,879.7 233.2,879.6 234.7,879.6 236.2,879.6 237.7,879.5 239.2,879.5 240.7,879.5 242.2,879.4 243.7,879.4 245.2,879.4 246.7,879.4 248.2,879.4 249.7,879.4 251.2,879.4 252.7,879.5 254.2,879.5 255.7,879.5 257.2,879.5 258.7,879.6 260.2,879.6 261.7,879.6 263.2,879.6 264.7,879.7 266.2,879.7 267.7,879.7 269.2,879.7 270.7,879.8 272.2,879.8 273.7,879.8 275.2,879.8 276.7,879.9 278.2,879.9 279.7,879.9 281.2,879.9 282.7,879.9 284.2,879.9 285.7,880.0 287.2,880.0 288.7,880.0 290.2,880.0 291.7,880.0 293.2,880.0 294.7,880.0 296.2,880.0 297.7,880.0 299.2,880.0 300.7,880.1 302.2,880.1 303.7,880.1 305.2,880.1 306.7,880.1 308.2,880.1 309.7,880.1 311.2,880.1 312.7,880.1 314.2,880.1 315.7,880.1 317.2,880.1 318.6,880.1 320.1,880.1 321.6,880.1 323.1,880.1 324.6,880.1 326.1,880.1 327.6,880.1 329.1,880.1 330.6,880.1 332.1,880.1 333.6,880.1 335.1,880.1 336.6,880.1 338.1,880.1 339.6,880.1 341.1,880.2 342.6,880.2 344.1,880.2 345.6,880.2 347.1,880.2 348.6,880.2 350.1,880.2 351.6,880.2 353.1,880.2 354.6,880.2 356.1,880.2 357.6,880.2 359.1,880.3 360.6,880.3 362.1,880.3 363.6,880.3 365.1,880.3 366.6,880.3 368.1,880.4 369.6,880.4 371.1,880.4 372.6,880.4 374.1,880.4 375.6,880.5 377.1,880.5 378.6,880.5 380.1,880.6 381.6,880.6 383.1,880.6 384.6,880.6 386.1,880.7 387.6,880.7 389.1,880.7 390.6,880.7 392.1,880.7 393.6,880.7 395.1,880.7 396.6,880.7 398.1,880.7 399.6,880.6 401.1,880.5 402.6,880.4 404.0,880.3 405.5,880.2 407.0,880.0 408.5,879.8 409.9,879.6 411.4,879.4 412.8,879.1 414.3,878.8 415.7,878.5 417.2,878.1 418.6,877.8 420.1,877.4 421.5,877.0 423.0,876.6 424.4,876.2 425.9,875.8 427.3,875.4 428.7,875.0 430.2,874.6 431.6,874.2 433.1,873.8 434.5,873.4 436.0,873.0 437.4,872.6 438.9,872.3 440.4,871.9 441.8,871.6 443.3,871.2 444.8,870.9 446.2,870.5 447.7,870.2 449.2,869.9 450.6,869.5 452.1,869.2 453.6,868.9 455.1,868.6 456.5,868.2 458.0,867.9 459.5,867.6 460.9,867.2 462.4,866.9 463.8,866.6 465.3,866.2 466.8,865.9 468.2,865.5 469.6,865.1 471.1,864.7 472.5,864.3 474.0,863.9 475.4,863.5 476.8,863.1 478.2,862.7 479.6,862.2 481.0,861.8 482.4,861.3 483.8,860.8 485.2,860.3 486.6,859.7 488.0,859.2 489.3,858.6 490.7,858.0 492.0,857.4 493.4,856.8 494.7,856.1 496.0,855.4 497.4,854.7 498.7,854.0 500.0,853.3 501.3,852.5 502.6,851.8 503.8,851.0 505.1,850.2 506.4,849.3 507.7,848.4 508.9,847.6 510.2,846.7 511.4,845.7 512.7,844.8 513.9,843.8 515.1,842.8 516.4,841.9 517.6,840.9 518.8,840.0 520.1,839.1 521.3,838.2 522.6,837.4 523.8,836.6 525.1,835.9 526.4,835.2 527.6,834.6 529.0,834.1 530.3,833.7 531.6,833.4 533.0,833.2 534.3,833.1 535.7,833.1 537.1,833.2 538.5,833.5 539.9,833.8 541.3,834.3 542.7,834.8 544.1,835.4 545.4,836.0 546.8,836.7 548.1,837.3 549.5,838.0 550.8,838.7 552.1,839.5 553.5,840.2 554.8,840.9 556.1,841.6 557.5,842.3 558.8,843.0 560.2,843.7 561.5,844.3 562.9,845.0 564.3,845.6 565.6,846.2 567.0,846.8 568.4,847.4 569.8,848.0 571.2,848.5 572.6,849.1 574.0,849.6 575.4,850.1 576.8,850.6 578.2,851.1 579.6,851.6 581.0,852.0 582.5,852.4 583.9,852.9 585.3,853.3 586.8,853.7 588.2,854.0 589.7,854.4 591.1,854.8 592.6,855.1 594.1,855.5 595.5,855.8 597.0,856.1 598.4,856.4 599.9,856.8 601.4,857.1 602.8,857.4 604.3,857.7 605.7,858.0 607.2,858.4 608.6,858.7 610.1,859.0 611.5,859.4 613.0,859.7 614.4,860.0 615.8,860.4 617.3,860.7 618.7,861.0 620.2,861.4 621.6,861.7 623.1,862.0 624.5,862.4 625.9,862.7 627.4,863.0 628.8,863.3 630.3,863.6 631.8,863.9 633.2,864.1 634.7,864.4 636.2,864.7 637.6,864.9 639.1,865.2 640.6,865.4 642.1,865.7 643.6,865.9 645.0,866.1 646.5,866.3 648.0,866.5 649.5,866.7 651.0,866.9 652.5,867.1 654.0,867.3 655.5,867.4 657.0,867.6 658.5,867.8 660.0,867.9 661.4,868.1 662.9,868.3 664.4,868.4 665.9,868.5 667.4,868.7 668.9,868.8 670.4,868.9 671.9,869.0 673.4,869.1 674.8,869.2 676.3,869.3 677.8,869.4 679.3,869.4 680.8,869.5 682.3,869.6 683.8,869.6 685.3,869.6 686.8,869.7 688.3,869.7 689.8,869.7 691.3,869.7 692.8,869.7 694.3,869.7 695.8,869.6 697.3,869.6 698.8,869.6 700.3,869.6 701.8,869.6 703.3,869.5 704.8,869.5 706.3,869.5 707.8,869.5 709.3,869.5 710.8,869.5 712.3,869.5 713.8,869.6 715.3,869.6 716.8,869.7 718.3,869.7 719.8,869.8 721.3,869.9 722.8,870.0 724.2,870.1 725.7,870.2 727.2,870.3 728.7,870.5 730.2,870.6 731.7,870.7 733.2,870.9 734.7,871.0 736.2,871.2 737.7,871.4 739.1,871.5 740.6,871.7 742.1,871.8 743.6,872.0 745.1,872.2 746.6,872.3 748.1,872.5 749.6,872.7 751.1,872.8 752.6,873.0 754.1,873.1 755.6,873.3 757.0,873.5 758.5,873.7 760.0,873.8 761.5,874.0 763.0,874.2 764.5,874.4 766.0,874.6 767.5,874.8 768.9,875.1 770.4,875.3 771.9,875.5 773.4,875.8 774.8,876.0 776.3,876.3 777.8,876.6 779.2,876.9 780.7,877.2 782.2,877.5 783.6,877.8 785.1,878.1 786.5,878.5 788.0,878.9 789.4,879.3 790.8,879.7 792.3,880.1 793.7,880.5 795.1,881.0 796.5,881.5 797.9,882.0 799.4,882.5 800.8,883.0 802.2,883.6 803.6,884.1 804.9,884.7 806.3,885.3 807.7,886.0 809.0,886.6 810.4,887.3 811.7,888.0 813.0,888.7 814.4,889.4 815.7,890.2 816.9,891.0 818.2,891.8 819.5,892.6 820.7,893.4 821.9,894.2 823.2,895.1 824.3,896.0 825.5,896.9 826.7,897.8 827.8,898.8 828.9,899.7 830.1,900.7 831.1,901.7 832.2,902.7 833.3,903.8 834.3,904.8 835.4,905.9 836.4,906.9 837.4,908.0 838.4,909.1 839.4,910.2 840.4,911.4 841.4,912.5 842.4,913.6 843.3,914.8 844.3,916.0 845.2,917.1 846.2,918.3 847.2,919.5 848.1,920.7 849.1,921.8 850.1,923.0 851.1,924.1 852.1,925.2 853.1,926.3 854.2,927.4 855.3,928.5 856.4,929.5 857.6,930.5 858.8,931.4 860.0,932.4 861.3,933.2 862.6,934.1 864.0,934.8 865.3,935.5 866.7,936.1 868.1,936.5 869.4,936.7 870.6,936.7 871.7,936.5 872.7,935.9 873.6,935.2 874.4,934.2 875.1,933.1 875.8,931.8 876.3,930.4 876.9,929.0 877.4,927.5 878.0,926.0 878.5,924.6 879.0,923.1 879.6,921.7 880.1,920.2 880.6,918.8 881.1,917.4 881.6,916.0 882.0,914.6 882.5,913.2 882.9,911.8 883.4,910.3 883.8,908.9 884.1,907.5 884.5,906.0 884.8,904.6 885.1,903.1 885.4,901.6 885.7,900.1 885.9,898.6 886.1,897.1 886.4,895.5 886.6,894.0 886.9,892.5 887.2,891.0 887.5,889.5 887.9,888.1 888.4,886.7 888.9,885.3 889.5,884.0 890.2,882.8 890.9,881.7 891.8,880.7 892.7,879.9 893.7,879.2 894.9,878.7 896.2,878.3 897.5,878.2 898.9,878.1 900.4,878.1 902.0,878.3 903.5,878.5 905.1,878.8 906.7,879.0 908.3,879.3 909.9,879.6 911.4,879.9 912.9,880.1 914.4,880.3 915.9,880.5 917.4,880.7 918.9,880.9 920.3,881.1 921.8,881.3 923.3,881.4 924.7,881.6 926.2,881.7 927.7,881.8 929.2,882.0 930.6,882.1 932.1,882.2 933.6,882.3 935.1,882.4 936.6,882.5 938.1,882.6 939.6,882.7 941.1,882.8 942.6,882.9 944.1,882.9 945.6,883.0 947.1,883.1 948.6,883.1 950.1,883.2 951.6,883.2 953.1,883.3 954.6,883.3 956.1,883.4 957.6,883.4 959.1,883.5 960.6,883.5 962.1,883.5 963.6,883.6 965.1,883.6 966.6,883.6 968.1,883.6 969.6,883.6 971.1,883.7 972.6,883.7 974.1,883.7 975.6,883.7 977.1,883.7 978.6,883.7 980.1,883.7 981.6,883.7 983.1,883.7 984.6,883.7 986.1,883.7 987.6,883.7 989.1,883.7 990.6,883.7 992.1,883.7 993.6,883.7 995.1,883.7 996.6,883.7 998.1,883.7 999.6,883.6 1001.1,883.6 1002.6,883.6 1004.1,883.6 1005.6,883.6 1007.1,883.6 1008.6,883.6 1010.1,883.6 1011.5,883.6 1013.0,883.5 1014.5,883.5 1016.0,883.5 1017.5,883.5 1019.0,883.5 1020.5,883.5 1022.0,883.5 1023.5,883.5 1025.0,883.5 1026.5,883.5 1028.0,883.5 1029.5,883.5 1031.0,883.5 1032.5,883.5 1034.0,883.5 1035.5,883.5 1037.0,883.5 1038.5,883.5 1040.0,883.5 1041.5,883.5 1043.0,883.6 1044.5,883.6 1046.1,883.6 1047.6,883.6 1049.1,883.6 1050.6,883.6 1052.1,883.6 1053.6,883.6 1055.1,883.5 1056.6,883.4 1058.1,883.3 1059.6,883.2 1061.1,883.0 1062.5,882.8 1064.0,882.5 1065.4,882.2 1066.8,881.8 1068.2,881.4 1069.6,880.9 1071.0,880.3 1072.3,879.7 1073.7,879.1 1075.0,878.4 1076.3,877.7 1077.6,877.0 1078.9,876.3 1080.2,875.5 1081.5,874.8 1082.8,874.1 1084.2,873.4 1085.5,872.8 1086.8,872.1 1088.1,871.4 1089.5,870.8 1090.8,870.1 1092.1,869.4 1093.4,868.7 1094.7,867.9 1096.0,867.2 1097.3,866.4 1098.5,865.6 1099.8,864.8 1101.0,863.9 1102.3,863.1 1103.5,862.2 1104.8,861.3 1106.0,860.4 1107.2,859.5 1108.4,858.6 1109.6,857.7 1110.8,856.7 1112.0,855.8 1113.1,854.9 1114.3,853.9 1115.5,852.9 1116.6,852.0 1117.7,851.0 1118.9,850.1 1120.0,849.1 1121.1,848.1 1122.3,847.2 1123.4,846.2 1124.5,845.2 1125.6,844.2 1126.7,843.2 1127.8,842.3 1128.9,841.3 1130.0,840.3 1131.1,839.3 1132.2,838.3 1133.3,837.3 1134.4,836.3 1135.5,835.3 1136.6,834.3 1137.7,833.3 1138.8,832.3 1139.9,831.3 1141.0,830.3 1142.1,829.3 1143.2,828.3 1144.3,827.3 1145.5,826.3 1146.6,825.3 1147.7,824.3 1148.9,823.3 1150.0,822.2 1151.2,821.2 1152.4,820.2 1153.5,819.2 1154.7,818.2 1155.9,817.2 1157.1,816.2 1158.3,815.2 1159.5,814.3 1160.8,813.4 1162.0,812.5 1163.3,811.7 1164.6,810.9 1165.8,810.2 1167.1,809.6 1168.5,809.1 1169.8,808.7 1171.1,808.4 1172.5,808.1 1173.8,808.0 1175.2,808.1 1176.6,808.2 1178.0,808.5 1179.4,808.9 1180.8,809.4 1182.2,810.1 1183.5,810.8 1184.8,811.6 1186.0,812.4 1187.2,813.4 1188.3,814.4 1189.3,815.5 1190.3,816.6 1191.3,817.8 1192.2,819.0 1193.2,820.2 1194.1,821.4 1195.0,822.7 1195.9,823.9 1196.8,825.0 1197.8,826.2 1198.8,827.3 1199.8,828.5 1200.8,829.6 1201.8,830.7 1202.8,831.7 1203.8,832.8 1204.9,833.9 1205.9,834.9 1207.0,836.0 1208.0,837.1 1209.0,838.2 1210.0,839.3 1211.0,840.4 1212.0,841.5 1213.0,842.7 1213.9,843.8 1214.8,845.0 1215.7,846.2 1216.6,847.5 1217.5,848.7 1218.4,850.0 1219.2,851.2 1220.1,852.4 1221.0,853.7 1221.9,854.9 1222.8,856.1 1223.7,857.3 1224.7,858.4 1225.7,859.5 1226.7,860.6 1227.7,861.7 1228.8,862.7 1229.9,863.7 1231.0,864.6 1232.2,865.5 1233.4,866.4 1234.6,867.2 1235.9,868.0 1237.1,868.7 1238.4,869.5 1239.7,870.1 1241.1,870.8 1242.4,871.4 1243.8,871.9 1245.2,872.4 1246.6,872.9 1248.0,873.4 1249.4,873.8 1250.9,874.2 1252.3,874.5 1253.8,874.9 1255.2,875.2 1256.7,875.4 1258.1,875.7 1259.6,875.9 1261.1,876.1 1262.6,876.2 1264.1,876.4 1265.6,876.5 1267.1,876.6 1268.6,876.7 1270.1,876.8 1271.6,876.9 1273.1,877.0 1274.6,877.0 1276.1,877.1 1277.6,877.1 1279.1,877.2 1280.6,877.2 1282.1,877.3 1283.6,877.3 1285.1,877.4 1286.6,877.4 1288.1,877.4 1289.6,877.5 1291.1,877.5 1292.6,877.5 1294.1,877.6 1295.6,877.6 1297.1,877.6 1298.6,877.6 1300.1,877.7 1301.6,877.7 1303.1,877.7 1304.6,877.7 1306.1,877.7 1307.6,877.7 1309.1,877.7 1310.6,877.7 1312.1,877.8 1313.6,877.8 1315.1,877.8 1316.6,877.8 1318.1,877.8 1319.5,877.8 1321.0,877.8 1322.5,877.8 1324.0,877.8 1325.5,877.8 1327.0,877.8 1328.5,877.8 1330.0,877.8 1331.5,877.8 1333.0,877.8 1334.5,877.8 1336.0,877.8 1337.5,877.8 1339.0,877.8 1340.5,877.8 1342.0,877.8 1343.5,877.8 1345.0,877.8 1346.5,877.8 1348.0,877.8 1349.5,877.8 1351.0,877.8 1352.5,877.8 1354.0,877.8 1355.5,877.7 1357.0,877.7 1358.5,877.7 1360.0,877.7 1361.5,877.7 1363.0,877.7 1364.5,877.7 1366.0,877.7 1367.5,877.7 1369.0,877.7 1370.5,877.7 1372.0,877.7 1373.5,877.7 1375.0,877.7 1376.5,877.7 1378.0,877.7 1379.5,877.7 1381.0,877.7 1382.5,877.7 1384.0,877.7 1385.5,877.7 1387.0,877.7 1388.5,877.7 1390.0,877.7 1391.5,877.7 1393.0,877.7 1394.5,877.7 1396.0,877.7 1397.5,877.7 1399.0,877.6 1400.5,877.6 1402.0,877.6 1403.5,877.6 1405.0,877.6 1406.5,877.6 1408.0,877.6 1409.5,877.6 1411.0,877.6 1412.5,877.6 1413.9,877.6 1415.4,877.6 1416.9,877.6 1418.4,877.6 1419.9,877.6 1421.4,877.6 1422.9,877.6 1424.4,877.6 1425.9,877.6 1427.4,877.6 1428.9,877.6 1430.4,877.6 1431.9,877.6 1433.4,877.6 1434.9,877.6 1436.4,877.6 1437.9,877.6 1439.4,877.6 1440.9,877.7 1442.4,877.7 1443.9,877.7 1445.4,877.7 1446.9,877.7 1448.4,877.7 1449.9,877.7 1451.4,877.7 1452.9,877.7 1454.4,877.7 1455.9,877.7 1457.4,877.7 1458.9,877.7 1460.4,877.7 1461.9,877.7 1463.4,877.7 1464.9,877.8 1466.4,877.8 1467.9,877.8 1469.4,877.8 1470.9,877.8 1472.4,877.8 1473.9,877.8 1475.4,877.8 1476.9,877.8 1478.4,877.8 1479.9,877.9 1481.4,877.9 1482.9,877.9 1484.4,877.9 1485.9,877.9 1487.4,877.9 1488.9,877.9 1490.4,877.9 1491.9,877.9 1493.4,877.9 1494.9,878.0 1496.4,878.0 1497.9,878.0 1499.4,878.0 1500.9,878.0 1502.4,878.0 1503.9,878.0 1505.4,878.0 1506.9,878.0 1508.4,878.0 1509.9,878.0 1511.4,878.1 1512.9,878.1 1514.4,878.1 1515.9,878.1 1517.4,878.1 1518.9,878.1 1520.4,878.1 1521.9,878.1 1523.4,878.1 1524.9,878.1 1526.4,878.1 1527.9,878.1 1529.4,878.1 1530.9,878.1 1532.4,878.1 1533.9,878.1 1535.4,878.1 1536.9,878.1 1538.4,878.1 1539.8,878.1 1541.3,878.1 1542.8,878.1 1544.3,878.1 1545.8,878.1 1547.3,878.1 1548.8,878.1 1550.3,878.1 1551.8,878.1 1553.3,878.1 1554.8,878.0 1556.3,878.0 1557.8,878.0 1559.3,878.0 1560.8,878.0 1562.3,878.0 1563.8,878.0 1565.3,877.9 1566.8,877.9 1568.3,877.9 1569.8,877.9 1571.3,877.9 1572.8,877.8 1574.3,877.8 1575.8,877.8 1577.3,877.8 1578.8,877.7 1580.3,877.7 1581.8,877.7 1583.3,877.7 1584.8,877.6 1586.3,877.6 1587.8,877.6 1589.3,877.5 1590.8,877.5 1592.3,877.5 1593.8,877.4 1595.3,877.4 1596.8,877.4 1598.3,877.3 1599.8,877.3 1601.3,877.3 1602.8,877.2 1604.3,877.2 1605.8,877.2 1607.3,877.1 1608.8,877.1 1610.3,877.1 1611.8,877.0 1613.3,877.0 1614.8,877.0 1616.3,876.9 1617.8,876.9 1619.3,876.9 1620.8,876.9 1622.3,876.8 1623.8,876.8 1625.3,876.8 1626.7,876.8 1628.2,876.7 1629.7,876.7 1631.2,876.7 1632.7,876.7 1634.2,876.6 1635.7,876.6 1637.2,876.6 1638.7,876.6 1640.2,876.6 1641.7,876.6 1643.2,876.6 1644.7,876.6 1646.2,876.6 1647.7,876.5 1649.2,876.5 1650.7,876.5 1652.2,876.5 1653.7,876.6 1655.2,876.6 1656.7,876.6 1658.2,876.6 1659.7,876.6 1661.2,876.6 1662.7,876.6 1664.2,876.6 1665.7,876.7 1667.2,876.7 1668.7,876.7 1670.2,876.7 1671.7,876.8 1673.2,876.8 1674.7,876.9 1676.2,876.9 1677.7,876.9 1679.2,877.0 1680.7,877.0 1682.2,877.1 1683.7,877.2 1685.2,877.2 1686.7,877.3 1688.2,877.4 1689.7,877.4 1691.2,877.5 1692.6,877.6 1694.1,877.7 1695.6,877.8 1697.1,877.8 1698.6,877.9 1700.1,878.0 1701.6,878.1 1703.1,878.2 1704.6,878.3 1706.1,878.4 1707.6,878.5 1709.1,878.6 1710.6,878.7 1712.1,878.8 1713.6,878.9 1715.1,879.0 1716.6,879.1 1718.1,879.1 1719.6,879.2 1721.1,879.3 1722.6,879.4 1724.1,879.5 1725.6,879.6 1727.1,879.7 1728.6,879.7 1730.1,879.8 1731.6,879.9 1733.1,879.9 1734.6,880.0 1736.1,880.0 1737.6,880.1 1739.1,880.1 1740.6,880.2 1742.1,880.2 1743.6,880.2 1745.0,880.3 1746.5,880.3 1748.0,880.3 1749.5,880.3 1751.0,880.3 1752.5,880.3 1754.0,880.3 1755.5,880.3 1757.0,880.2 1758.5,880.2 1760.0,880.2 1761.5,880.2 1763.0,880.1 1764.5,880.1 1766.0,880.1 1767.5,880.1 1769.0,880.0 1770.5,880.0 1772.0,880.0 1773.5,879.9 1775.0,879.9 1776.5,879.9 1778.0,879.9 1779.5,879.8 1781.0,879.8 1782.5,879.8 1784.0,879.8 1785.5,879.8 1787.0,879.8 1788.5,879.8 1790.0,879.8 1791.5,879.8 1793.0,879.8 1794.5,879.9 1796.0,879.9 1797.5,880.0 1799.0,880.0 1800.5,880.1 1802.0,880.1 1803.5,880.2 1805.0,880.3"/>
<path stroke="#C673E2" d="M158.4,870.8L159.6,871.5 160.7,872.3 161.9,873.0 163.1,873.8 164.4,874.6 165.7,875.3 166.9,876.1 168.3,876.9 169.6,877.6 170.9,878.3 172.3,879.0 173.7,879.6 175.1,880.1 176.5,880.6 177.9,881.0 179.3,881.3 180.7,881.6 182.1,881.7 183.6,881.8 185.0,881.8 186.5,881.7 187.9,881.5 189.3,881.3 190.8,881.1 192.3,880.7 193.7,880.4 195.2,880.0 196.6,879.6 198.1,879.2 199.6,878.8 201.0,878.4 202.5,878.0 204.0,877.6 205.5,877.3 206.9,876.9 208.4,876.6 209.9,876.3 211.4,876.0 212.9,875.8 214.4,875.6 215.8,875.3 217.3,875.2 218.8,875.0 220.3,874.9 221.8,874.7 223.3,874.6 224.8,874.5 226.3,874.4 227.7,874.4 229.2,874.3 230.7,874.3 232.2,874.3 233.7,874.2 235.2,874.2 236.7,874.3 238.2,874.3 239.6,874.3 241.1,874.3 242.6,874.4 244.1,874.4 245.6,874.5 247.0,874.6 248.5,874.6 250.0,874.7 251.4,874.8 252.9,874.9 254.4,874.9 255.8,875.0 257.3,875.1 258.8,875.2 260.2,875.2 261.7,875.3 263.1,875.3 264.5,875.2 265.9,875.1 267.3,874.9 268.7,874.8 270.1,874.6 271.5,874.5 273.0,874.4 274.4,874.4 275.9,874.4 277.4,874.4 278.9,874.4 280.4,874.4 281.9,874.5 283.5,874.5 285.0,874.5 286.5,874.5 288.0,874.6 289.5,874.6 291.0,874.6 292.5,874.6 294.0,874.6 295.5,874.6 297.0,874.6 298.5,874.6 300.0,874.6 301.5,874.5 303.0,874.5 304.5,874.5 306.0,874.5 307.5,874.5 309.0,874.5 310.5,874.4 312.0,874.4 313.5,874.4 315.0,874.4 316.5,874.4 318.0,874.4 319.5,874.4 321.0,874.4 322.5,874.4 324.0,874.4 325.5,874.4 327.0,874.4 328.5,874.4 330.0,874.4 331.5,874.4 333.0,874.4 334.5,874.4 336.0,874.4 337.5,874.5 339.0,874.5 340.5,874.5 342.0,874.5 343.5,874.6 344.9,874.6 346.4,874.6 347.9,874.7 349.4,874.7 350.9,874.8 352.4,874.8 353.9,874.9 355.4,874.9 356.9,875.0 358.4,875.1 359.9,875.1 361.4,875.2 362.9,875.3 364.4,875.4 365.9,875.4 367.3,875.5 368.8,875.6 370.3,875.7 371.8,875.8 373.3,875.9 374.8,876.0 376.3,876.1 377.8,876.3 379.3,876.4 380.8,876.5 382.3,876.6 383.8,876.7 385.3,876.8 386.8,876.9 388.3,877.0 389.8,877.1 391.2,877.2 392.7,877.3 394.2,877.4 395.7,877.5 397.2,877.6 398.7,877.6 400.2,877.7 401.7,877.8 403.2,877.8 404.7,877.8 406.2,877.9 407.7,877.9 409.1,877.9 410.6,877.9 412.1,877.9 413.6,877.9 415.1,877.9 416.6,877.8 418.1,877.8 419.6,877.7 421.1,877.6 422.5,877.5 424.0,877.4 425.5,877.3 427.0,877.2 428.5,877.0 430.0,876.9 431.5,876.8 433.0,876.6 434.4,876.5 435.9,876.4 437.4,876.3 438.9,876.1 440.4,876.0 441.9,875.9 443.4,875.9 444.9,875.8 446.3,875.8 447.8,875.7 449.3,875.7 450.8,875.7 452.3,875.7 453.8,875.7 455.3,875.8 456.8,875.8 458.3,875.9 459.8,876.0 461.2,876.1 462.7,876.1 464.2,876.2 465.7,876.3 467.2,876.4 468.7,876.5 470.2,876.6 471.7,876.7 473.1,876.9 474.6,877.0 476.1,877.1 477.6,877.2 479.1,877.3 480.5,877.4 482.0,877.4 483.5,877.5 485.0,877.6 486.5,877.7 487.9,877.8 489.4,877.8 490.9,877.9 492.4,877.9 493.9,878.0 495.4,878.0 496.8,878.0 498.3,878.0 499.8,878.0 501.3,878.0 502.8,878.0 504.3,878.0 505.8,877.9 507.4,877.9 508.9,877.9 510.4,877.8 511.9,877.8 513.4,877.7 514.9,877.7 516.4,877.6 517.9,877.6 519.4,877.6 520.9,877.5 522.5,877.5 524.0,877.5 525.5,877.5 527.0,877.5 528.5,877.6 529.9,877.6 531.4,877.7 532.9,877.8 534.4,877.8 535.9,877.9 537.4,878.0 538.9,878.1 540.3,878.2 541.8,878.3 543.3,878.5 544.8,878.6 546.3,878.7 547.8,878.8 549.3,878.9 550.7,879.0 552.2,879.1 553.7,879.2 555.2,879.3 556.7,879.4 558.2,879.5 559.7,879.6 561.2,879.6 562.7,879.7 564.2,879.7 565.7,879.7 567.2,879.7 568.7,879.7 570.2,879.6 571.7,879.5 573.2,879.4 574.7,879.3 576.1,879.1 577.6,879.0 579.1,878.7 580.5,878.5 582.0,878.2 583.4,877.9 584.8,877.6 586.3,877.2 587.7,876.8 589.1,876.4 590.5,876.0 591.9,875.5 593.3,875.0 594.7,874.5 596.1,874.0 597.4,873.4 598.8,872.8 600.2,872.3 601.6,871.7 602.9,871.0 604.3,870.4 605.6,869.7 607.0,869.1 608.3,868.4 609.7,867.7 611.0,867.0 612.3,866.3 613.7,865.6 615.0,864.9 616.3,864.1 617.7,863.4 619.0,862.7 620.3,861.9 621.6,861.2 622.9,860.4 624.3,859.7 625.6,858.9 626.9,858.2 628.2,857.4 629.5,856.7 630.8,855.9 632.1,855.2 633.4,854.4 634.8,853.7 636.1,852.9 637.4,852.2 638.7,851.5 640.0,850.8 641.3,850.0 642.7,849.3 644.0,848.6 645.3,847.9 646.6,847.3 648.0,846.6 649.3,845.9 650.6,845.3 652.0,844.6 653.3,844.0 654.7,843.4 656.0,842.8 657.4,842.2 658.8,841.6 660.1,841.1 661.5,840.5 662.9,840.0 664.3,839.5 665.7,839.0 667.1,838.5 668.5,838.0 669.9,837.6 671.3,837.2 672.7,836.8 674.2,836.4 675.6,836.0 677.1,835.7 678.5,835.4 680.0,835.1 681.5,834.8 682.9,834.6 684.4,834.4 685.9,834.3 687.4,834.1 688.9,834.0 690.4,834.0 691.9,834.0 693.4,834.0 694.9,834.0 696.4,834.1 697.9,834.3 699.4,834.4 700.9,834.7 702.4,834.9 703.9,835.2 705.4,835.6 706.9,836.0 708.4,836.4 709.8,836.9 711.2,837.4 712.6,838.0 714.0,838.6 715.3,839.3 716.6,840.0 717.9,840.8 719.1,841.6 720.3,842.5 721.4,843.4 722.5,844.3 723.6,845.3 724.6,846.3 725.5,847.4 726.5,848.5 727.4,849.6 728.3,850.8 729.2,852.0 730.1,853.2 731.0,854.4 731.9,855.6 732.9,856.8 733.8,857.9 734.9,859.0 736.0,860.0 737.1,860.8 738.4,861.6 739.7,862.3 741.1,862.8 742.6,863.3 744.1,863.7 745.6,864.2 747.1,864.6 748.6,865.0 750.1,865.4 751.5,866.0 752.9,866.6 754.2,867.2 755.5,868.0 756.7,868.7 758.0,869.5 759.2,870.3 760.4,871.1 761.7,871.8 762.9,872.6 764.2,873.2 765.6,873.9 766.9,874.5 768.2,875.1 769.6,875.7 771.0,876.2 772.4,876.8 773.8,877.3 775.3,877.8 776.7,878.3 778.2,878.7 779.6,879.2 781.1,879.6 782.5,880.1 784.0,880.5 785.5,880.9 787.0,881.4 788.4,881.8 789.9,882.3 791.4,882.7 792.9,883.1 794.3,883.6 795.8,884.1 797.2,884.6 798.6,885.1 800.1,885.6 801.5,886.1 802.9,886.7 804.2,887.2 805.6,887.8 806.9,888.5 808.3,889.1 809.6,889.8 810.8,890.6 812.1,891.3 813.3,892.1 814.5,892.9 815.7,893.8 816.9,894.6 818.0,895.6 819.1,896.5 820.2,897.5 821.3,898.4 822.4,899.5 823.4,900.5 824.4,901.6 825.4,902.6 826.4,903.8 827.3,904.9 828.3,906.0 829.2,907.2 830.1,908.4 830.9,909.6 831.8,910.8 832.6,912.1 833.4,913.3 834.2,914.6 835.0,915.9 835.7,917.2 836.4,918.5 837.1,919.8 837.8,921.2 838.5,922.5 839.2,923.9 839.8,925.3 840.4,926.6 841.0,928.0 841.6,929.4 842.2,930.8 842.7,932.2 843.2,933.6 843.7,935.0 844.2,936.5 844.7,937.9 845.2,939.3 845.6,940.7 846.1,942.2 846.5,943.6 846.9,945.0 847.3,946.5 847.7,947.9 848.0,949.4 848.4,950.8 848.8,952.3 849.1,953.7 849.4,955.2 849.8,956.7 850.1,958.1 850.4,959.6 850.7,961.1 851.0,962.5 851.3,964.0 851.6,965.5 851.9,966.9 852.1,968.4 852.4,969.9 852.7,971.4 853.0,972.8 853.2,974.3 853.5,975.8 853.8,977.3 854.0,978.8 854.3,980.2 854.6,981.7 854.9,983.2 855.1,984.7 855.4,986.1 855.7,987.6 856.0,989.1 856.3,990.5 856.6,992.0 856.8,993.5 857.1,995.0 857.4,996.4 857.7,997.9 858.0,999.4 858.3,1000.9 858.6,1002.3 858.9,1003.8 859.2,1005.3 859.4,1006.7 859.7,1008.2 860.0,1009.7 860.3,1011.1 860.6,1012.6 860.9,1014.1 861.2,1015.6 861.5,1017.0 861.7,1018.5 862.0,1020.0 862.3,1021.4 862.6,1022.9 862.8,1024.4 863.1,1025.9 863.4,1027.3 863.6,1028.8 863.9,1030.3 864.2,1031.8 864.4,1033.2 864.7,1034.7 864.9,1036.2 865.2,1037.7 865.4,1039.2 865.7,1040.6 865.9,1042.1 866.1,1043.6 866.4,1045.1 866.6,1046.6 866.8,1048.0 867.1,1049.5 867.3,1051.0 867.5,1052.5 867.7,1054.0 867.9,1055.4 868.2,1056.9 868.4,1058.4 868.6,1059.9 868.8,1061.4 869.0,1062.9 869.2,1064.4 869.4,1065.8 869.6,1067.3 869.8,1068.8 870.0,1070.3 870.2,1071.8 870.4,1073.3 870.6,1074.8 870.8,1076.3 871.0,1077.7 871.2,1079.2 871.3,1080.7 871.5,1082.2 871.7,1083.7 871.9,1085.2 872.1,1086.7 872.3,1088.2 872.5,1089.6 872.7,1091.1 872.8,1092.6 873.0,1094.1 873.2,1095.6 873.4,1097.1 873.6,1098.6 873.8,1100.1 873.9,1101.6 874.1,1103.1 874.3,1104.5 874.5,1106.0 874.7,1107.5 874.9,1109.0 875.0,1110.5 875.2,1112.0 875.4,1113.5 875.6,1115.0 875.7,1116.5 875.9,1117.9 876.1,1119.4 876.3,1120.9 876.4,1122.4 876.6,1123.9 876.8,1125.4 877.0,1126.9 877.1,1128.4 877.3,1129.9 877.5,1131.3 877.6,1132.8 877.8,1134.3 878.0,1135.8 878.1,1137.3 878.3,1138.8 878.4,1140.3 878.6,1141.8 878.8,1143.2 878.9,1144.7 879.1,1146.2 879.2,1147.7 879.4,1149.2 879.5,1150.7 879.7,1152.2 879.8,1153.7 880.0,1155.2 880.1,1156.6 880.3,1158.1 880.4,1159.6 880.6,1161.1 880.7,1162.6 880.9,1164.1 881.1,1165.6 881.2,1167.1 881.4,1168.6 881.6,1170.1 881.7,1171.6 881.9,1173.1 882.1,1174.6 882.3,1176.1 882.5,1177.6 882.7,1179.1 882.9,1180.6 883.1,1182.2 883.4,1183.7 883.6,1185.2 883.9,1186.8 884.2,1188.3 884.5,1189.7 884.8,1190.7 885.1,1191.0 885.4,1190.5 885.8,1189.4 886.1,1188.0 886.4,1186.6 886.6,1185.1 886.9,1183.6 887.1,1182.2 887.3,1180.7 887.5,1179.2 887.7,1177.7 887.8,1176.2 888.0,1174.7 888.1,1173.2 888.2,1171.7 888.4,1170.2 888.5,1168.7 888.6,1167.2 888.7,1165.7 888.8,1164.2 888.9,1162.6 889.0,1161.1 889.0,1159.6 889.1,1158.1 889.2,1156.6 889.3,1155.1 889.4,1153.6 889.5,1152.1 889.6,1150.6 889.7,1149.1 889.8,1147.6 889.9,1146.1 890.1,1144.6 890.2,1143.1 890.3,1141.7 890.4,1140.2 890.5,1138.7 890.6,1137.2 890.7,1135.7 890.8,1134.2 890.9,1132.7 891.1,1131.2 891.2,1129.7 891.3,1128.2 891.4,1126.7 891.5,1125.2 891.7,1123.7 891.8,1122.3 891.9,1120.8 892.0,1119.3 892.1,1117.8 892.3,1116.3 892.4,1114.8 892.5,1113.3 892.6,1111.8 892.8,1110.3 892.9,1108.8 893.0,1107.3 893.1,1105.8 893.3,1104.3 893.4,1102.8 893.5,1101.4 893.6,1099.9 893.8,1098.4 893.9,1096.9 894.0,1095.4 894.1,1093.9 894.3,1092.4 894.4,1090.9 894.5,1089.4 894.7,1087.9 894.8,1086.4 894.9,1084.9 895.1,1083.4 895.2,1081.9 895.3,1080.4 895.4,1078.9 895.6,1077.5 895.7,1076.0 895.8,1074.5 896.0,1073.0 896.1,1071.5 896.2,1070.0 896.4,1068.5 896.5,1067.0 896.6,1065.5 896.8,1064.0 896.9,1062.5 897.0,1061.0 897.1,1059.5 897.3,1058.0 897.4,1056.5 897.5,1055.0 897.7,1053.5 897.8,1052.0 897.9,1050.6 898.0,1049.1 898.2,1047.6 898.3,1046.1 898.4,1044.6 898.6,1043.1 898.7,1041.6 898.8,1040.1 898.9,1038.6 899.1,1037.1 899.2,1035.6 899.3,1034.1 899.4,1032.6 899.5,1031.1 899.7,1029.6 899.8,1028.1 899.9,1026.6 900.0,1025.1 900.2,1023.7 900.3,1022.2 900.4,1020.7 900.5,1019.2 900.6,1017.7 900.7,1016.2 900.9,1014.7 901.0,1013.2 901.1,1011.7 901.2,1010.2 901.3,1008.7 901.4,1007.2 901.5,1005.7 901.6,1004.2 901.7,1002.7 901.8,1001.2 901.9,999.7 902.0,998.2 902.1,996.8 902.2,995.3 902.3,993.8 902.4,992.3 902.5,990.8 902.6,989.3 902.7,987.8 902.7,986.3 902.8,984.8 902.9,983.3 903.0,981.8 903.0,980.3 903.1,978.8 903.2,977.3 903.3,975.8 903.3,974.3 903.4,972.8 903.4,971.3 903.5,969.8 903.6,968.3 903.6,966.8 903.7,965.3 903.8,963.8 903.8,962.3 903.9,960.8 904.0,959.4 904.1,957.9 904.3,956.4 904.4,954.9 904.5,953.4 904.7,951.9 904.8,950.4 905.0,948.9 905.2,947.4 905.5,946.0 905.7,944.5 906.0,943.0 906.2,941.5 906.5,940.0 906.8,938.6 907.1,937.1 907.4,935.6 907.7,934.1 908.0,932.7 908.3,931.2 908.6,929.7 909.0,928.3 909.3,926.8 909.6,925.3 909.9,923.9 910.2,922.4 910.5,921.0 910.8,919.5 911.1,918.0 911.4,916.6 911.7,915.1 912.0,913.7 912.3,912.2 912.6,910.7 912.9,909.3 913.2,907.8 913.5,906.4 913.9,904.9 914.2,903.5 914.5,902.0 914.9,900.5 915.3,899.1 915.6,897.6 916.0,896.2 916.5,894.7 916.9,893.3 917.3,891.8 917.8,890.4 918.3,888.9 918.8,887.5 919.4,886.1 920.0,884.7 920.6,883.3 921.3,882.0 922.0,880.7 922.8,879.6 923.7,878.5 924.7,877.6 925.8,876.8 926.9,876.2 928.2,875.7 929.5,875.3 930.9,875.0 932.3,874.8 933.8,874.6 935.4,874.5 936.9,874.5 938.5,874.5 940.1,874.6 941.8,874.7 943.4,874.8 945.0,874.8 946.6,874.9 948.2,875.0 949.7,875.0 951.2,874.9 952.7,874.8 954.1,874.7 955.5,874.6 956.9,874.5 958.3,874.5 959.7,874.5 961.1,874.5 962.5,874.7 964.0,875.0 965.5,875.4 967.0,875.9 968.5,876.4 970.0,876.7 971.4,876.7 972.8,876.6 974.3,876.3 975.7,876.0 977.1,875.8 978.5,875.5 980.0,875.3 981.4,875.1 982.8,874.9 984.3,874.7 985.8,874.5 987.2,874.4 988.7,874.2 990.2,874.1 991.7,874.0 993.2,873.9 994.7,873.8 996.2,873.8 997.7,873.7 999.2,873.7 1000.7,873.6 1002.2,873.6 1003.7,873.6 1005.2,873.6 1006.7,873.6 1008.2,873.6 1009.8,873.6 1011.3,873.6 1012.8,873.7 1014.3,873.7 1015.8,873.7 1017.3,873.8 1018.8,873.8 1020.3,873.9 1021.8,873.9 1023.3,874.0 1024.8,874.1 1026.3,874.1 1027.7,874.2 1029.2,874.2 1030.7,874.3 1032.2,874.4 1033.6,874.4 1035.1,874.5 1036.5,874.6 1038.0,874.7 1039.5,874.8 1040.9,874.9 1042.4,875.0 1043.8,875.1 1045.3,875.2 1046.8,875.3 1048.2,875.5 1049.7,875.6 1051.2,875.7 1052.6,875.8 1054.1,875.9 1055.6,876.0 1057.1,876.0 1058.6,876.1 1060.1,876.2 1061.6,876.2 1063.1,876.2 1064.6,876.3 1066.1,876.3 1067.6,876.3 1069.2,876.3 1070.7,876.3 1072.2,876.3 1073.7,876.3 1075.2,876.2 1076.7,876.2 1078.2,876.2 1079.7,876.2 1081.2,876.1 1082.7,876.1 1084.2,876.1 1085.7,876.0 1087.2,876.0 1088.7,875.9 1090.2,875.9 1091.6,875.8 1093.1,875.8 1094.6,875.7 1096.1,875.6 1097.5,875.6 1099.0,875.5 1100.5,875.4 1102.0,875.3 1103.4,875.2 1104.9,875.1 1106.4,875.0 1107.9,874.8 1109.3,874.7 1110.8,874.5 1112.3,874.4 1113.8,874.2 1115.3,874.1 1116.8,873.9 1118.2,873.7 1119.7,873.6 1121.2,873.5 1122.7,873.3 1124.2,873.2 1125.7,873.2 1127.2,873.1 1128.6,873.1 1130.1,873.1 1131.6,873.2 1133.1,873.2 1134.6,873.4 1136.1,873.5 1137.5,873.7 1139.0,874.0 1140.5,874.2 1142.0,874.5 1143.5,874.8 1144.9,875.1 1146.4,875.4 1147.9,875.7 1149.4,876.0 1150.9,876.4 1152.3,876.7 1153.8,877.0 1155.3,877.3 1156.8,877.6 1158.3,877.8 1159.7,878.0 1161.2,878.3 1162.7,878.5 1164.2,878.6 1165.7,878.8 1167.2,878.9 1168.6,879.1 1170.1,879.2 1171.6,879.3 1173.1,879.4 1174.6,879.6 1176.1,879.7 1177.6,879.8 1179.0,880.0 1180.5,880.1 1182.0,880.2 1183.5,880.4 1185.0,880.6 1186.5,880.8 1188.0,881.0 1189.5,881.2 1190.9,881.5 1192.4,881.7 1193.9,882.0 1195.4,882.2 1196.9,882.5 1198.3,882.8 1199.8,883.1 1201.3,883.4 1202.8,883.7 1204.3,884.0 1205.7,884.3 1207.2,884.6 1208.7,884.9 1210.1,885.2 1211.6,885.5 1213.1,885.8 1214.5,886.1 1216.0,886.3 1217.5,886.6 1218.9,886.8 1220.4,887.0 1221.9,887.1 1223.4,887.2 1224.9,887.2 1226.3,887.2 1227.8,887.1 1229.3,887.0 1230.8,886.8 1232.3,886.6 1233.8,886.3 1235.2,886.0 1236.7,885.6 1238.1,885.2 1239.5,884.8 1240.9,884.3 1242.3,883.8 1243.7,883.2 1245.0,882.7 1246.4,882.0 1247.7,881.4 1249.0,880.7 1250.3,880.0 1251.6,879.2 1252.8,878.4 1254.1,877.6 1255.3,876.8 1256.5,875.9 1257.7,875.0 1258.9,874.1 1260.0,873.1 1261.2,872.1 1262.3,871.1 1263.4,870.1 1264.5,869.1 1265.5,868.0 1266.6,866.9 1267.6,865.8 1268.6,864.7 1269.6,863.6 1270.6,862.4 1271.6,861.3 1272.5,860.1 1273.4,858.9 1274.3,857.7 1275.2,856.4 1276.0,855.2 1276.9,854.0 1277.7,852.7 1278.5,851.5 1279.3,850.2 1280.0,848.9 1280.8,847.6 1281.5,846.3 1282.2,845.0 1282.9,843.7 1283.6,842.4 1284.3,841.1 1284.9,839.7 1285.6,838.4 1286.2,837.0 1286.8,835.7 1287.4,834.3 1288.0,832.9 1288.6,831.6 1289.1,830.2 1289.7,828.8 1290.2,827.4 1290.8,826.0 1291.3,824.6 1291.8,823.2 1292.4,821.8 1292.9,820.4 1293.4,819.0 1293.9,817.6 1294.4,816.1 1294.9,814.7 1295.3,813.3 1295.8,811.9 1296.3,810.4 1296.8,809.0 1297.3,807.6 1297.7,806.2 1298.2,804.7 1298.7,803.3 1299.1,801.9 1299.6,800.4 1300.1,799.0 1300.5,797.6 1301.0,796.1 1301.5,794.7 1301.9,793.3 1302.4,791.9 1302.8,790.4 1303.3,789.0 1303.7,787.6 1304.2,786.1 1304.6,784.7 1305.1,783.3 1305.5,781.8 1306.0,780.4 1306.4,779.0 1306.8,777.5 1307.2,776.1 1307.7,774.6 1308.1,773.2 1308.5,771.8 1308.9,770.3 1309.3,768.9 1309.7,767.4 1310.0,766.0 1310.4,764.5 1310.8,763.1 1311.2,761.6 1311.5,760.2 1311.9,758.7 1312.2,757.3 1312.5,755.8 1312.9,754.4 1313.2,752.9 1313.5,751.4 1313.8,750.0 1314.1,748.5 1314.4,747.0 1314.6,745.6 1314.9,744.1 1315.2,742.6 1315.4,741.2 1315.7,739.7 1315.9,738.2 1316.2,736.7 1316.4,735.2 1316.6,733.8 1316.9,732.3 1317.1,730.8 1317.3,729.3 1317.5,727.8 1317.7,726.3 1317.9,724.9 1318.1,723.4 1318.3,721.9 1318.5,720.4 1318.7,718.9 1318.9,717.4 1319.1,715.9 1319.3,714.4 1319.5,712.9 1319.7,711.5 1319.9,710.0 1320.1,708.5 1320.2,707.0 1320.4,705.5 1320.6,704.0 1320.8,702.5 1321.0,701.0 1321.2,699.5 1321.4,698.0 1321.6,696.6 1321.8,695.1 1322.0,693.6 1322.2,692.1 1322.4,690.6 1322.6,689.1 1322.9,687.6 1323.1,686.2 1323.3,684.7 1323.5,683.2 1323.7,681.7 1323.9,680.2 1324.2,678.7 1324.4,677.3 1324.6,675.8 1324.8,674.3 1325.1,672.8 1325.3,671.3 1325.5,669.9 1325.7,668.4 1326.0,666.9 1326.2,665.4 1326.4,663.9 1326.7,662.4 1326.9,661.0 1327.1,659.5 1327.4,658.0 1327.6,656.5 1327.8,655.0 1328.1,653.6 1328.3,652.1 1328.5,650.6 1328.8,649.1 1329.0,647.6 1329.2,646.2 1329.5,644.7 1329.7,643.2 1329.9,641.7 1330.2,640.2 1330.4,638.8 1330.6,637.3 1330.9,635.8 1331.1,634.3 1331.3,632.8 1331.6,631.4 1331.8,629.9 1332.0,628.4 1332.2,626.9 1332.5,625.4 1332.7,624.0 1332.9,622.5 1333.1,621.0 1333.4,619.5 1333.6,618.0 1333.8,616.5 1334.0,615.1 1334.3,613.6 1334.5,612.1 1334.7,610.6 1334.9,609.1 1335.1,607.6 1335.4,606.2 1335.6,604.7 1335.8,603.2 1336.0,601.7 1336.2,600.2 1336.4,598.7 1336.7,597.3 1336.9,595.8 1337.1,594.3 1337.3,592.8 1337.5,591.3 1337.7,589.8 1337.9,588.4 1338.1,586.9 1338.4,585.4 1338.6,583.9 1338.8,582.4 1339.0,580.9 1339.2,579.4 1339.4,578.0 1339.6,576.5 1339.8,575.0 1340.0,573.5 1340.2,572.0 1340.4,570.5 1340.6,569.0 1340.8,567.6 1341.0,566.1 1341.2,564.6 1341.4,563.1 1341.6,561.6 1341.8,560.1 1342.0,558.6 1342.2,557.2 1342.4,555.7 1342.5,554.2 1342.7,552.7 1342.9,551.2 1343.1,549.7 1343.3,548.2 1343.5,546.7 1343.7,545.3 1343.9,543.8 1344.0,542.3 1344.2,540.8 1344.4,539.3 1344.6,537.8 1344.8,536.3 1344.9,534.8 1345.1,533.3 1345.3,531.9 1345.5,530.4 1345.6,528.9 1345.8,527.4 1346.0,525.9 1346.2,524.4 1346.3,522.9 1346.5,521.4 1346.7,519.9 1346.8,518.4 1347.0,517.0 1347.2,515.5 1347.3,514.0 1347.5,512.5 1347.7,511.0 1347.8,509.5 1348.0,508.0 1348.2,506.5 1348.3,505.0 1348.5,503.5 1348.6,502.1 1348.8,500.6 1349.0,499.1 1349.1,497.6 1349.3,496.1 1349.4,494.6 1349.6,493.1 1349.8,491.6 1349.9,490.1 1350.1,488.6 1350.2,487.1 1350.4,485.7 1350.5,484.2 1350.7,482.7 1350.8,481.2 1351.0,479.7 1351.1,478.2 1351.3,476.7 1351.4,475.2 1351.6,473.7 1351.7,472.2 1351.9,470.8 1352.0,469.3 1352.2,467.8 1352.4,466.3 1352.5,464.8 1352.7,463.3 1352.8,461.8 1353.0,460.3 1353.1,458.8 1353.3,457.3 1353.4,455.8 1353.6,454.4 1353.7,452.9 1353.9,451.4 1354.0,449.9 1354.2,448.4 1354.3,446.9 1354.5,445.4 1354.6,443.9 1354.8,442.4 1354.9,440.9 1355.1,439.5 1355.2,438.0 1355.4,436.5 1355.5,435.0 1355.7,433.5 1355.8,432.0 1356.0,430.5 1356.1,429.0 1356.3,427.5 1356.5,426.0 1356.6,424.5 1356.8,423.1 1356.9,421.6 1357.1,420.1 1357.2,418.6 1357.4,417.1 1357.6,415.6 1357.7,414.1 1357.9,412.6 1358.0,411.1 1358.2,409.6 1358.4,408.2 1358.5,406.7 1358.7,405.2 1358.9,403.7 1359.0,402.2 1359.2,400.7 1359.4,399.2 1359.5,397.7 1359.7,396.2 1359.8,394.7 1360.0,393.2 1360.2,391.8 1360.3,390.3 1360.5,388.8 1360.7,387.3 1360.8,385.8 1361.0,384.3 1361.2,382.8 1361.3,381.3 1361.5,379.8 1361.7,378.3 1361.8,376.9 1362.0,375.4 1362.2,373.9 1362.4,372.4 1362.5,370.9 1362.7,369.4 1362.9,367.9 1363.0,366.4 1363.2,364.9 1363.4,363.4 1363.5,362.0 1363.7,360.5 1363.9,359.0 1364.1,357.5 1364.2,356.0 1364.4,354.5 1364.6,353.0 1364.7,351.5 1364.9,350.0 1365.1,348.6 1365.2,347.1 1365.4,345.6 1365.6,344.1 1365.8,342.6 1365.9,341.1 1366.1,339.6 1366.3,338.1 1366.4,336.6 1366.6,335.1 1366.8,333.7 1366.9,332.2 1367.1,330.7 1367.3,329.2 1367.5,327.7 1367.6,326.2 1367.8,324.7 1368.0,323.2 1368.1,321.8 1368.3,320.3 1368.5,318.8 1368.6,317.3 1368.8,315.8 1369.0,314.3 1369.2,312.8 1369.3,311.3 1369.5,309.8 1369.7,308.4 1369.8,306.9 1370.0,305.4 1370.2,303.9 1370.3,302.4 1370.5,300.9 1370.7,299.4 1370.9,297.9 1371.0,296.5 1371.2,295.0 1371.4,293.5 1371.6,292.0 1371.7,290.5 1371.9,289.0 1372.1,287.5 1372.3,286.0 1372.5,284.6 1372.6,283.1 1372.8,281.6 1373.0,280.1 1373.2,278.6 1373.4,277.1 1373.6,275.6 1373.8,274.1 1373.9,272.6 1374.1,271.1 1374.3,269.7 1374.5,268.2 1374.7,266.7 1374.9,265.2 1375.1,263.7 1375.3,262.2 1375.5,260.7 1375.7,259.2 1376.0,257.7 1376.2,256.3 1376.4,254.8 1376.6,253.3 1376.8,251.8 1377.0,250.3 1377.3,248.8 1377.5,247.3 1377.7,245.9 1377.9,244.4 1378.2,242.9 1378.4,241.4 1378.7,239.9 1378.9,238.5 1379.1,237.0 1379.4,235.5 1379.6,234.1 1379.9,232.6 1380.1,231.1 1380.4,229.7 1380.7,228.2 1380.9,226.7 1381.2,225.3 1381.5,223.8 1381.8,222.4 1382.0,220.9 1382.3,219.5 1382.6,218.0 1382.9,216.5 1383.3,215.1 1383.6,213.6 1384.0,212.1 1384.4,210.6 1384.8,209.1 1385.2,207.5 1385.7,206.0 1386.3,204.6 1386.9,203.1 1387.6,201.8 1388.3,200.6 1389.2,199.4 1390.1,198.4 1391.1,197.6 1392.1,197.2 1393.0,197.1 1393.8,197.7 1394.5,198.8 1395.1,200.2 1395.6,201.7 1396.0,203.2 1396.5,204.7 1396.9,206.2 1397.3,207.7 1397.7,209.2 1398.1,210.6 1398.5,212.1 1398.8,213.6 1399.1,215.0 1399.5,216.5 1399.8,218.0 1400.1,219.4 1400.4,220.9 1400.7,222.4 1400.9,223.9 1401.2,225.3 1401.4,226.8 1401.7,228.3 1401.9,229.8 1402.2,231.2 1402.4,232.7 1402.6,234.2 1402.8,235.7 1403.0,237.2 1403.2,238.7 1403.4,240.1 1403.6,241.6 1403.8,243.1 1403.9,244.6 1404.1,246.1 1404.3,247.6 1404.5,249.1 1404.6,250.6 1404.8,252.0 1405.0,253.5 1405.1,255.0 1405.3,256.5 1405.5,258.0 1405.6,259.5 1405.8,261.0 1405.9,262.5 1406.1,264.0 1406.3,265.5 1406.4,266.9 1406.6,268.4 1406.8,269.9 1406.9,271.4 1407.1,272.9 1407.3,274.4 1407.4,275.9 1407.6,277.4 1407.7,278.9 1407.9,280.3 1408.1,281.8 1408.2,283.3 1408.4,284.8 1408.6,286.3 1408.7,287.8 1408.9,289.3 1409.1,290.8 1409.2,292.3 1409.4,293.8 1409.5,295.3 1409.7,296.7 1409.9,298.2 1410.0,299.7 1410.2,301.2 1410.4,302.7 1410.5,304.2 1410.7,305.7 1410.8,307.2 1411.0,308.7 1411.2,310.2 1411.3,311.6 1411.5,313.1 1411.6,314.6 1411.8,316.1 1411.9,317.6 1412.1,319.1 1412.3,320.6 1412.4,322.1 1412.6,323.6 1412.7,325.1 1412.9,326.6 1413.0,328.1 1413.2,329.5 1413.3,331.0 1413.5,332.5 1413.6,334.0 1413.8,335.5 1414.0,337.0 1414.1,338.5 1414.2,340.0 1414.4,341.5 1414.5,343.0 1414.7,344.5 1414.8,346.0 1415.0,347.4 1415.1,348.9 1415.3,350.4 1415.4,351.9 1415.6,353.4 1415.7,354.9 1415.8,356.4 1416.0,357.9 1416.1,359.4 1416.2,360.9 1416.4,362.4 1416.5,363.9 1416.7,365.4 1416.8,366.9 1416.9,368.3 1417.0,369.8 1417.2,371.3 1417.3,372.8 1417.4,374.3 1417.6,375.8 1417.7,377.3 1417.8,378.8 1417.9,380.3 1418.1,381.8 1418.2,383.3 1418.3,384.8 1418.4,386.3 1418.6,387.8 1418.7,389.3 1418.8,390.8 1418.9,392.3 1419.1,393.7 1419.2,395.2 1419.3,396.7 1419.4,398.2 1419.6,399.7 1419.7,401.2 1419.8,402.7 1419.9,404.2 1420.0,405.7 1420.2,407.2 1420.3,408.7 1420.4,410.2 1420.5,411.7 1420.6,413.2 1420.8,414.7 1420.9,416.2 1421.0,417.7 1421.1,419.1 1421.3,420.6 1421.4,422.1 1421.5,423.6 1421.6,425.1 1421.8,426.6 1421.9,428.1 1422.0,429.6 1422.1,431.1 1422.3,432.6 1422.4,434.1 1422.5,435.6 1422.6,437.1 1422.8,438.6 1422.9,440.1 1423.0,441.6 1423.2,443.0 1423.3,444.5 1423.4,446.0 1423.6,447.5 1423.7,449.0 1423.8,450.5 1424.0,452.0 1424.1,453.5 1424.2,455.0 1424.4,456.5 1424.5,458.0 1424.7,459.5 1424.8,461.0 1425.0,462.5 1425.1,463.9 1425.3,465.4 1425.4,466.9 1425.6,468.4 1425.7,469.9 1425.9,471.4 1426.0,472.9 1426.2,474.4 1426.3,475.9 1426.5,477.4 1426.6,478.9 1426.8,480.3 1427.0,481.8 1427.1,483.3 1427.3,484.8 1427.4,486.3 1427.6,487.8 1427.8,489.3 1427.9,490.8 1428.1,492.3 1428.3,493.8 1428.4,495.3 1428.6,496.7 1428.8,498.2 1428.9,499.7 1429.1,501.2 1429.3,502.7 1429.4,504.2 1429.6,505.7 1429.8,507.2 1429.9,508.7 1430.1,510.2 1430.3,511.6 1430.4,513.1 1430.6,514.6 1430.8,516.1 1430.9,517.6 1431.1,519.1 1431.2,520.6 1431.4,522.1 1431.6,523.6 1431.7,525.1 1431.9,526.5 1432.0,528.0 1432.2,529.5 1432.4,531.0 1432.5,532.5 1432.7,534.0 1432.8,535.5 1433.0,537.0 1433.1,538.5 1433.3,540.0 1433.4,541.5 1433.6,542.9 1433.7,544.4 1433.9,545.9 1434.0,547.4 1434.2,548.9 1434.3,550.4 1434.5,551.9 1434.6,553.4 1434.7,554.9 1434.9,556.4 1435.0,557.9 1435.2,559.4 1435.3,560.8 1435.5,562.3 1435.6,563.8 1435.7,565.3 1435.9,566.8 1436.0,568.3 1436.1,569.8 1436.3,571.3 1436.4,572.8 1436.6,574.3 1436.7,575.8 1436.8,577.3 1437.0,578.8 1437.1,580.2 1437.2,581.7 1437.4,583.2 1437.5,584.7 1437.6,586.2 1437.7,587.7 1437.9,589.2 1438.0,590.7 1438.1,592.2 1438.3,593.7 1438.4,595.2 1438.5,596.7 1438.6,598.2 1438.8,599.7 1438.9,601.2 1439.0,602.7 1439.2,604.1 1439.3,605.6 1439.4,607.1 1439.5,608.6 1439.7,610.1 1439.8,611.6 1439.9,613.1 1440.0,614.6 1440.2,616.1 1440.3,617.6 1440.4,619.1 1440.5,620.6 1440.7,622.1 1440.8,623.6 1440.9,625.1 1441.0,626.6 1441.2,628.1 1441.3,629.6 1441.4,631.0 1441.5,632.5 1441.7,634.0 1441.8,635.5 1441.9,637.0 1442.0,638.5 1442.2,640.0 1442.3,641.5 1442.4,643.0 1442.5,644.5 1442.7,646.0 1442.8,647.5 1442.9,649.0 1443.0,650.5 1443.2,652.0 1443.3,653.5 1443.4,655.0 1443.6,656.5 1443.7,658.0 1443.8,659.4 1443.9,660.9 1444.1,662.4 1444.2,663.9 1444.3,665.4 1444.5,666.9 1444.6,668.4 1444.7,669.9 1444.9,671.4 1445.0,672.9 1445.1,674.4 1445.3,675.9 1445.4,677.4 1445.6,678.9 1445.7,680.4 1445.8,681.9 1446.0,683.3 1446.1,684.8 1446.3,686.3 1446.4,687.8 1446.5,689.3 1446.7,690.8 1446.8,692.3 1447.0,693.8 1447.1,695.3 1447.3,696.8 1447.4,698.3 1447.6,699.8 1447.7,701.3 1447.9,702.7 1448.0,704.2 1448.2,705.7 1448.3,707.2 1448.5,708.7 1448.6,710.2 1448.8,711.7 1448.9,713.2 1449.1,714.7 1449.3,716.2 1449.4,717.7 1449.6,719.1 1449.8,720.6 1449.9,722.1 1450.1,723.6 1450.3,725.1 1450.4,726.6 1450.6,728.1 1450.8,729.6 1450.9,731.1 1451.1,732.6 1451.3,734.0 1451.5,735.5 1451.6,737.0 1451.8,738.5 1452.0,740.0 1452.2,741.5 1452.4,743.0 1452.6,744.5 1452.7,745.9 1452.9,747.4 1453.1,748.9 1453.3,750.4 1453.5,751.9 1453.7,753.4 1453.9,754.9 1454.1,756.3 1454.3,757.8 1454.5,759.3 1454.7,760.8 1454.9,762.3 1455.1,763.8 1455.3,765.2 1455.5,766.7 1455.8,768.2 1456.0,769.7 1456.2,771.2 1456.4,772.7 1456.6,774.1 1456.8,775.6 1457.1,777.1 1457.3,778.6 1457.5,780.1 1457.8,781.6 1458.0,783.0 1458.2,784.5 1458.5,786.0 1458.7,787.5 1458.9,789.0 1459.2,790.4 1459.4,791.9 1459.7,793.4 1459.9,794.9 1460.2,796.3 1460.4,797.8 1460.7,799.3 1460.9,800.8 1461.2,802.3 1461.5,803.7 1461.7,805.2 1462.0,806.7 1462.3,808.2 1462.5,809.6 1462.8,811.1 1463.1,812.6 1463.4,814.1 1463.7,815.5 1464.0,817.0 1464.2,818.5 1464.5,819.9 1464.8,821.4 1465.2,822.9 1465.5,824.3 1465.8,825.8 1466.1,827.3 1466.4,828.7 1466.7,830.2 1467.1,831.7 1467.4,833.1 1467.7,834.6 1468.1,836.1 1468.4,837.5 1468.8,839.0 1469.1,840.4 1469.5,841.9 1469.9,843.4 1470.2,844.8 1470.6,846.3 1471.0,847.7 1471.4,849.2 1471.8,850.6 1472.2,852.1 1472.6,853.5 1473.0,855.0 1473.4,856.4 1473.8,857.9 1474.2,859.3 1474.7,860.7 1475.1,862.1 1475.6,863.6 1476.0,865.0 1476.5,866.4 1477.0,867.7 1477.4,869.1 1478.0,870.5 1478.5,871.9 1479.1,873.2 1479.7,874.6 1480.3,876.0 1481.1,877.4 1481.8,878.7 1482.6,880.1 1483.5,881.4 1484.5,882.7 1485.5,883.8 1486.6,884.8 1487.8,885.6 1489.0,886.1 1490.3,886.4 1491.7,886.5 1493.2,886.3 1494.6,885.9 1496.1,885.4 1497.6,884.9 1499.1,884.3 1500.5,883.8 1501.9,883.3 1503.2,882.8 1504.6,882.4 1505.9,881.9 1507.2,881.4 1508.6,880.8 1510.0,880.2 1511.4,879.6 1512.8,878.8 1514.2,878.1 1515.7,877.3 1517.1,876.6 1518.6,876.0 1520.0,875.4 1521.4,875.0 1522.7,874.7 1524.0,874.6 1525.2,874.6 1526.5,874.8 1527.7,875.0 1528.9,875.5 1530.2,876.0 1531.5,876.5 1532.8,877.2 1534.2,877.9 1535.6,878.6 1537.1,879.3 1538.5,879.8 1540.0,880.3 1541.4,880.6 1542.9,880.8 1544.3,880.8 1545.7,880.7 1547.1,880.5 1548.5,880.2 1549.9,879.8 1551.3,879.3 1552.7,878.8 1554.1,878.2 1555.5,877.6 1556.9,877.1 1558.3,876.5 1559.7,875.9 1561.1,875.4 1562.5,874.9 1563.9,874.5 1565.3,874.2 1566.7,873.9 1568.2,873.7 1569.6,873.6 1571.1,873.6 1572.5,873.6 1574.0,873.7 1575.5,873.8 1576.9,874.0 1578.4,874.1 1579.9,874.3 1581.4,874.5 1582.9,874.7 1584.4,874.8 1585.9,875.0 1587.4,875.1 1588.9,875.2 1590.4,875.2 1591.9,875.2 1593.5,875.2 1595.0,875.1 1596.5,875.0 1598.0,874.9 1599.5,874.8 1601.0,874.7 1602.5,874.5 1604.0,874.4 1605.5,874.3 1607.0,874.2 1608.5,874.1 1610.0,874.0 1611.5,874.0 1613.0,874.0 1614.5,874.0 1616.0,874.1 1617.4,874.2 1618.9,874.4 1620.4,874.7 1621.8,875.0 1623.3,875.3 1624.7,875.7 1626.2,876.1 1627.6,876.4 1629.1,876.8 1630.5,877.2 1632.0,877.5 1633.4,877.8 1634.9,878.1 1636.4,878.3 1637.8,878.5 1639.3,878.7 1640.8,878.8 1642.3,879.0 1643.7,879.1 1645.2,879.2 1646.7,879.3 1648.2,879.4 1649.7,879.5 1651.2,879.6 1652.7,879.6 1654.1,879.7 1655.6,879.7 1657.1,879.7 1658.6,879.7 1660.1,879.7 1661.6,879.8 1663.1,879.7 1664.6,879.7 1666.1,879.7 1667.6,879.7 1669.1,879.7 1670.6,879.6 1672.1,879.6 1673.6,879.5 1675.1,879.5 1676.6,879.4 1678.1,879.4 1679.6,879.3 1681.1,879.3 1682.6,879.2 1684.1,879.1 1685.6,879.1 1687.1,879.0 1688.6,879.0 1690.1,878.9 1691.7,878.8 1693.2,878.8 1694.7,878.7 1696.2,878.7 1697.7,878.6 1699.2,878.6 1700.7,878.6 1702.2,878.5 1703.7,878.5 1705.2,878.5 1706.7,878.4 1708.2,878.4 1709.7,878.4 1711.1,878.3 1712.6,878.3 1714.1,878.2 1715.6,878.1 1717.1,878.1 1718.6,878.0 1720.1,877.9 1721.6,877.8 1723.1,877.6 1724.5,877.5 1726.0,877.3 1727.5,877.1 1729.0,876.9 1730.4,876.7 1731.9,876.5 1733.4,876.2 1734.9,876.0 1736.3,875.7 1737.8,875.4 1739.3,875.2 1740.7,874.9 1742.2,874.6 1743.7,874.4 1745.2,874.1 1746.6,873.9 1748.1,873.7 1749.6,873.4 1751.1,873.3 1752.6,873.1 1754.0,872.9 1755.5,872.8 1757.0,872.7 1758.5,872.6 1760.0,872.5 1761.5,872.5 1763.0,872.4 1764.5,872.4 1766.0,872.4 1767.5,872.3 1769.0,872.3 1770.5,872.4 1772.0,872.4 1773.5,872.4 1775.0,872.4 1776.5,872.5 1778.0,872.5 1779.5,872.6 1781.0,872.6 1782.5,872.7 1784.0,872.7 1785.5,872.8 1787.0,872.8 1788.5,872.9 1790.0,872.9 1791.5,873.0 1793.0,873.0 1794.5,873.1 1796.0,873.1 1797.5,873.1 1799.0,873.1 1800.5,873.1 1802.0,873.1 1803.5,873.1 1805.0,873.0"/>
</g>
<g font-size="57" text-anchor="middle">
<text x="159.0" y="1422.5">50</text>
<text x="488.2" y="1422.5">100</text>
<text x="817.4" y="1422.5">150</text>
<text x="1146.6" y="1422.5">200</text>
<text x="1475.8" y="1422.5">250</text>
<text x="1805.0" y="1422.5">300</text>
</g>
<text x="716.5" y="1532" font-size="71" textLength="394" lengthAdjust="spacingAndGlyphs">Temperature</text>
<text x="1125" y="1532" font-size="71" textLength="119.5" lengthAdjust="spacingAndGlyphs">(°C)</text>
<text transform="translate(79.5,1220) rotate(-90)" font-size="72" textLength="635" lengthAdjust="spacingAndGlyphs">Heart Flow (mW/mg)</text>
<text transform="translate(79.5,516) rotate(-90)" font-size="72" textLength="117" lengthAdjust="spacingAndGlyphs">Exo</text>
<path d="M45,367.5V236" stroke="#000" stroke-width="2.1"/>
<path d="M45,202.3L36.1,238.8H53.8Z" fill="#000"/>
<path d="M158.5,53.7H237.5" stroke="#C673E2" stroke-width="6"/>
<text x="254" y="66.6" font-size="37">20 °C·min<tspan font-size="26.6" dy="-15.8">−1</tspan></text>
<path d="M158.5,105.6H237.5" stroke="#505050" stroke-width="6"/>
<text x="254" y="118.5" font-size="37">15 °C·min<tspan font-size="26.6" dy="-15.8">−1</tspan></text>
<path d="M158.5,157.5H237.5" stroke="#FF4040" stroke-width="6"/>
<text x="254" y="170.4" font-size="37">10 °C·min<tspan font-size="26.6" dy="-15.8">−1</tspan></text>
<path d="M158.5,209.4H237.5" stroke="#006CE0" stroke-width="6"/>
<text x="254" y="222.3" font-size="37">5 °C·min<tspan font-size="26.6" dy="-15.8">−1</tspan></text>
<path d="M158.5,261.3H237.5" stroke="#00AE64" stroke-width="6"/>
<text x="254" y="274.2" font-size="37">2 °C·min<tspan font-size="26.6" dy="-15.8">−1</tspan></text>
<text x="1293.5" y="196.6" font-size="32.5" fill="#CC66FF">237°C</text>
<text x="1263.0" y="288.5" font-size="32.5" fill="#333333">233°C</text>
<text x="1215.0" y="482.8" font-size="32.5" fill="#FF0000">226°C</text>
<text x="1145.0" y="726.5" font-size="32.5" fill="#0000FF">216°C</text>
<text x="1071.0" y="803.0" font-size="32.5" fill="#008A00">207°C</text>
</svg>
</body></html>
